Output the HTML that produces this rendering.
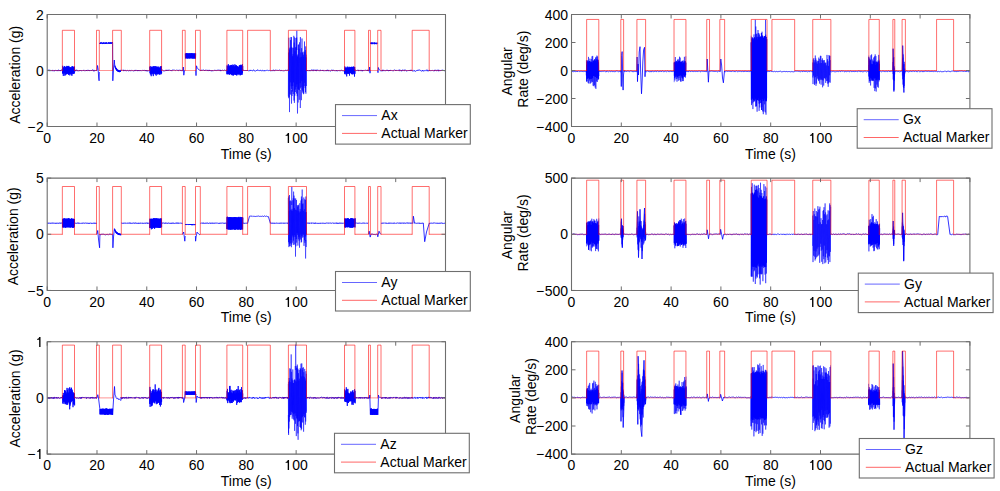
<!DOCTYPE html><html><head><meta charset="utf-8"><style>html,body{margin:0;padding:0;background:#fff;width:1000px;height:491px;overflow:hidden}svg{display:block}text{font-family:"Liberation Sans",sans-serif;font-size:14px;fill:#000}</style></head><body><svg width="1000" height="491" viewBox="0 0 1000 491"><defs><clipPath id="c0"><rect x="47.20" y="14.50" width="398.30" height="112.00"/></clipPath></defs><g clip-path="url(#c0)"><path d="M47.2 70.0 47.6 70.5 47.9 70.6 48.3 69.8 48.6 70.0 49.0 71.1 49.3 69.9 49.7 70.0 50.1 71.1 50.4 70.7 50.8 70.3 51.1 70.5 51.5 70.7 51.9 70.2 52.2 70.0 52.6 70.9 52.9 70.7 53.3 70.5 53.6 70.9 54.0 70.6 54.4 71.2 54.7 70.1 55.1 70.6 55.4 70.5 55.8 70.3 56.2 70.6 56.5 70.1 56.9 70.9 57.2 71.0 57.6 70.0 57.9 70.5 58.3 70.2 58.7 69.9 59.0 71.1 59.4 70.4 59.7 70.0 60.1 70.7 60.5 70.1 60.8 71.1 61.2 70.1 61.5 69.8 61.9 70.1 62.2 70.3 62.6 70.5 62.5 73.3 62.7 65.8 62.9 73.6 63.1 68.1 63.3 75.9 63.5 67.3 63.7 72.7 63.9 68.2 64.1 73.6 64.3 66.4 64.5 72.6 64.7 66.1 64.9 75.8 65.1 68.0 65.3 74.8 65.6 66.9 65.8 73.1 66.0 67.4 66.2 74.4 66.4 67.0 66.6 74.1 66.8 65.9 67.0 73.1 67.2 66.4 67.4 73.9 67.6 66.3 67.8 72.9 68.0 67.8 68.2 74.2 68.4 66.3 68.6 74.9 68.8 65.9 69.0 73.1 69.2 68.1 69.4 73.9 69.6 66.9 69.8 75.4 70.0 68.2 70.2 73.8 70.4 67.3 70.6 73.4 70.8 67.3 71.0 74.4 71.2 68.0 71.4 74.4 71.7 66.5 71.9 75.8 72.1 67.8 72.3 72.6 72.5 66.4 72.7 74.1 72.9 66.3 73.1 72.8 73.3 66.9 73.5 73.8 73.7 67.5 73.9 73.4 74.1 67.4 74.3 73.5 74.5 66.5 74.6 70.5 75.0 70.2 75.3 71.2 75.7 69.9 76.0 70.3 76.4 70.6 76.7 69.8 77.1 70.0 77.5 70.9 77.8 70.9 78.2 70.7 78.5 71.1 78.9 70.9 79.3 70.2 79.6 70.7 80.0 70.3 80.3 70.8 80.7 70.3 81.0 70.0 81.4 71.0 81.8 70.8 82.1 70.8 82.5 70.6 82.8 70.9 83.2 70.4 83.6 70.6 83.9 69.9 84.3 70.6 84.6 70.9 85.0 70.8 85.3 70.9 85.7 70.5 86.1 71.0 86.4 70.0 86.8 71.0 87.1 70.3 87.5 69.9 87.8 70.7 88.2 70.4 88.6 70.4 88.9 71.0 89.3 70.0 89.6 70.7 90.0 70.4 90.4 70.5 90.7 70.5 91.1 70.0 91.4 70.5 91.8 71.0 92.1 70.0 92.5 69.8 92.9 69.9 93.2 70.4 93.6 71.2 93.9 69.9 94.3 71.2 94.7 70.6 95.0 70.0 95.4 70.4 95.7 70.1 96.1 70.8 96.4 70.6 96.8 70.2 97.0 70.5 97.5 65.5 98.1 69.0 98.7 78.0 99.1 80.8 99.3 72.0 M99.7 42.8 99.8 43.9 99.9 43.7 100.1 43.1 100.2 43.0 100.3 43.6 100.4 44.0 100.6 42.4 100.7 42.6 100.8 43.0 100.9 43.2 101.0 42.4 101.2 42.4 101.3 42.7 101.4 43.0 101.5 43.6 101.7 43.4 101.8 42.4 101.9 42.4 102.0 43.1 102.1 43.9 102.3 43.9 102.4 43.0 102.5 43.9 102.6 44.0 102.7 43.0 102.9 43.6 103.0 43.0 103.1 42.6 103.2 43.3 103.4 42.5 103.5 43.5 103.6 43.8 103.7 43.9 103.8 43.1 104.0 42.5 104.1 43.9 104.2 43.9 104.3 44.0 104.5 43.4 104.6 43.5 104.7 43.0 104.8 42.6 104.9 42.8 105.1 43.6 105.2 42.9 105.3 43.5 105.4 43.2 105.6 43.1 105.7 44.0 105.8 42.6 105.9 43.2 106.0 42.6 106.2 44.0 106.3 43.2 106.4 42.9 106.5 42.6 106.6 43.4 106.8 43.0 106.9 42.5 107.0 42.4 107.1 43.0 107.3 43.3 107.4 43.2 107.5 43.9 107.6 43.9 107.7 44.0 107.9 43.7 108.0 43.2 108.1 43.2 108.2 43.0 108.4 43.0 108.5 42.4 108.6 43.7 108.7 42.7 108.8 42.4 109.0 43.1 109.1 43.6 109.2 43.1 109.3 43.0 109.5 43.5 109.6 42.6 109.7 42.3 109.8 43.4 109.9 43.3 110.1 43.9 110.2 43.0 110.3 43.7 110.4 42.3 110.5 42.3 110.7 43.4 110.8 42.7 110.9 42.4 111.0 42.5 111.2 43.0 111.3 42.9 111.4 43.3 111.5 43.9 111.6 43.0 111.8 42.6 111.9 43.3 112.0 42.3 112.1 43.0 112.3 42.9 112.4 43.0 112.5 42.4 112.6 43.2 112.8 80.8 113.4 70.0 114.3 60.0 114.8 66.5 115.0 65.7 115.2 67.7 115.3 66.4 115.5 68.6 115.6 67.3 115.8 69.1 115.9 67.8 116.1 69.4 116.2 68.1 116.4 70.1 116.5 68.5 116.7 70.6 116.8 68.9 117.0 70.5 117.1 69.6 117.3 70.9 117.4 69.7 117.6 71.3 117.8 69.9 117.9 71.4 118.1 69.9 118.2 71.4 118.4 70.1 118.5 71.5 118.7 70.4 118.8 72.0 119.0 70.3 119.1 71.9 119.3 70.6 119.4 72.2 119.6 70.7 119.7 71.9 119.9 70.8 120.0 71.9 120.2 70.5 120.3 72.0 120.5 70.5 120.5 70.1 120.9 70.2 121.2 70.6 121.6 70.2 121.9 70.3 122.3 69.9 122.6 70.3 123.0 69.8 123.4 70.1 123.7 71.1 124.1 70.2 124.4 70.2 124.8 70.8 125.1 71.0 125.5 70.2 125.9 70.3 126.2 70.8 126.6 70.9 126.9 70.7 127.3 70.1 127.6 70.1 128.0 70.9 128.4 70.8 128.7 71.1 129.1 70.9 129.4 70.4 129.8 70.0 130.1 71.0 130.5 70.8 130.9 70.6 131.2 70.8 131.6 70.3 131.9 70.3 132.3 70.6 132.6 70.5 133.0 70.8 133.4 71.1 133.7 71.0 134.1 70.3 134.4 70.3 134.8 71.1 135.2 70.4 135.5 70.9 135.9 69.9 136.2 70.4 136.6 70.5 136.9 70.9 137.3 71.0 137.7 70.0 138.0 70.7 138.4 70.7 138.7 70.0 139.1 71.0 139.4 70.6 139.8 71.1 140.2 70.1 140.5 70.5 140.9 70.3 141.2 70.7 141.6 70.7 141.9 70.5 142.3 70.3 142.7 70.5 143.0 70.3 143.4 71.0 143.7 70.4 144.1 70.5 144.4 70.2 144.8 70.2 145.2 71.1 145.5 70.2 145.9 71.0 146.2 70.6 146.6 71.2 146.9 70.0 147.3 71.1 147.7 70.9 148.0 70.6 148.4 70.8 148.7 70.8 149.1 70.4 149.4 70.7 149.8 70.1 149.8 67.0 150.0 73.2 150.2 66.0 150.4 74.5 150.6 67.8 150.8 73.5 151.0 67.8 151.2 76.2 151.5 66.7 151.7 74.2 151.9 67.2 152.1 72.8 152.3 67.6 152.5 73.4 152.7 67.3 152.9 74.3 153.1 66.0 153.3 76.1 153.5 66.5 153.7 73.1 153.9 67.6 154.1 74.1 154.4 67.5 154.6 72.6 154.8 66.0 155.0 73.9 155.2 66.2 155.4 74.6 155.6 67.8 155.8 73.9 156.0 66.6 156.2 75.6 156.4 66.6 156.6 73.8 156.8 67.8 157.0 73.6 157.3 67.4 157.5 74.4 157.7 66.7 157.9 72.8 158.1 66.8 158.3 74.1 158.5 68.0 158.7 73.7 158.9 66.7 159.1 74.4 159.3 68.0 159.5 74.5 159.7 67.5 159.9 73.4 160.2 68.2 160.4 73.2 160.6 66.5 160.8 74.5 161.0 66.2 161.2 73.8 161.4 66.3 161.6 73.3 161.6 70.5 162.0 69.8 162.3 69.8 162.7 70.2 163.0 70.6 163.4 70.8 163.7 71.1 164.1 70.9 164.5 71.1 164.8 70.7 165.2 70.8 165.5 70.6 165.9 69.9 166.2 69.9 166.6 70.9 166.9 70.1 167.3 70.9 167.7 70.4 168.0 69.8 168.4 70.6 168.7 70.4 169.1 69.9 169.4 70.2 169.8 70.2 170.2 70.3 170.5 70.8 170.9 70.0 171.2 70.4 171.6 70.6 171.9 71.1 172.3 70.0 172.7 69.9 173.0 70.1 173.4 70.1 173.7 70.0 174.1 69.9 174.4 70.1 174.8 70.1 175.2 70.5 175.5 70.7 175.9 70.3 176.2 70.0 176.6 69.9 176.9 70.2 177.3 70.0 177.7 70.5 178.0 71.0 178.4 70.8 178.7 70.1 179.1 69.9 179.4 69.9 179.8 70.4 180.1 70.3 180.5 70.8 180.9 69.9 181.2 70.2 181.6 70.8 181.9 70.6 182.3 70.5 182.6 71.1 183.0 70.0 183.3 67.0 183.8 75.2 184.5 70.5 185.0 70.5 M185.3 53.7 185.5 58.3 185.7 53.3 185.9 58.4 186.1 53.8 186.3 58.1 186.5 53.1 186.8 58.4 187.0 53.7 187.2 58.1 187.4 53.4 187.6 58.5 187.8 53.5 188.0 58.3 188.2 53.5 188.4 58.2 188.6 53.5 188.8 58.2 189.0 53.7 189.3 58.5 189.5 53.4 189.7 58.1 189.9 53.5 190.1 58.5 190.3 53.4 190.5 58.1 190.7 53.6 190.9 58.0 191.1 53.5 191.3 58.4 191.5 53.2 191.7 58.1 192.0 53.6 192.2 58.4 192.4 53.5 192.6 58.4 192.8 53.4 193.0 58.3 193.2 53.7 193.4 58.4 193.6 53.7 193.8 58.4 194.0 53.4 194.2 58.1 194.5 53.8 194.7 58.6 194.9 53.4 195.1 58.3 195.3 53.5 195.5 58.5 195.7 53.5 M195.7 70.5 196.0 75.6 196.5 65.8 196.6 66.1 197.2 67.7 197.7 68.5 198.2 69.2 198.8 69.5 199.3 70.0 199.9 70.2 200.0 70.7 200.4 70.6 200.7 70.6 201.1 71.0 201.4 69.9 201.8 70.3 202.1 69.9 202.5 70.4 202.9 69.9 203.2 69.9 203.6 69.9 203.9 70.3 204.3 70.9 204.6 70.2 205.0 70.8 205.4 70.1 205.7 70.2 206.1 70.5 206.4 69.9 206.8 70.4 207.1 70.6 207.5 71.0 207.9 69.9 208.2 70.9 208.6 70.6 208.9 70.6 209.3 69.9 209.6 71.0 210.0 70.2 210.4 70.6 210.7 70.6 211.1 71.1 211.4 70.6 211.8 71.2 212.1 70.1 212.5 70.7 212.9 70.6 213.2 70.5 213.6 70.7 213.9 70.6 214.3 70.3 214.7 70.7 215.0 69.9 215.4 70.5 215.7 70.4 216.1 70.1 216.4 70.6 216.8 70.7 217.2 70.0 217.5 70.2 217.9 69.9 218.2 70.6 218.6 69.9 218.9 70.1 219.3 70.4 219.7 70.4 220.0 69.8 220.4 71.1 220.7 70.1 221.1 70.7 221.4 70.1 221.8 70.6 222.2 70.3 222.5 70.2 222.9 70.5 223.2 70.6 223.6 70.6 223.9 70.8 224.3 70.2 224.7 69.9 225.0 70.2 225.4 70.3 225.7 70.7 226.1 70.4 226.4 70.2 226.8 69.9 226.9 74.3 227.1 65.4 227.3 73.9 227.5 66.8 227.7 74.1 227.9 65.9 228.1 74.4 228.3 64.1 228.5 74.0 228.7 65.6 229.0 72.9 229.2 65.9 229.4 74.8 229.6 67.2 229.8 74.1 230.0 65.3 230.2 73.8 230.4 65.6 230.6 74.0 230.8 65.7 231.0 74.3 231.2 64.9 231.4 75.1 231.6 65.2 231.8 73.4 232.0 65.3 232.2 73.8 232.4 66.4 232.6 75.3 232.9 64.5 233.1 75.2 233.3 66.6 233.5 75.4 233.7 65.0 233.9 74.8 234.1 66.1 234.3 73.7 234.5 67.0 234.7 74.4 234.9 64.3 235.1 74.8 235.3 66.4 235.5 74.5 235.7 65.1 235.9 74.7 236.1 66.0 236.3 75.0 236.5 65.3 236.7 75.5 237.0 66.0 237.2 73.9 237.4 66.7 237.6 74.1 237.8 66.3 238.0 75.1 238.2 67.1 238.4 73.9 238.6 66.8 238.8 74.1 239.0 67.1 239.2 74.3 239.4 65.1 239.6 73.8 239.8 65.8 240.0 75.2 240.2 66.0 240.4 75.2 240.6 64.8 240.9 74.8 241.1 65.2 241.3 74.5 241.5 65.5 241.7 74.2 241.9 65.7 242.1 74.8 242.3 64.2 242.5 73.1 242.7 66.1 242.8 70.5 243.4 70.3 244.0 70.1 244.6 70.9 245.2 70.3 245.9 71.0 246.5 70.1 247.1 70.8 247.7 70.3 248.3 71.0 248.9 70.7 249.5 70.8 250.1 69.9 250.8 70.9 251.4 70.3 252.0 70.8 252.6 71.0 253.2 70.0 253.8 69.8 254.4 70.9 255.0 71.2 255.7 71.1 256.3 70.4 256.9 71.0 257.5 69.8 258.1 69.9 258.7 70.6 259.3 70.5 259.9 71.0 260.6 70.1 261.2 70.4 261.8 71.2 262.4 70.2 263.0 70.4 263.6 70.7 264.2 71.2 264.8 70.1 265.5 70.8 266.1 70.4 266.7 70.4 267.3 70.2 267.9 70.5 268.5 70.6 269.1 70.3 269.7 70.5 270.3 70.7 271.0 71.0 271.6 70.6 272.2 70.3 272.8 71.1 273.4 70.0 274.0 69.9 274.6 71.1 275.2 70.2 275.9 70.0 276.5 70.3 277.1 70.3 277.7 70.3 278.3 71.0 278.9 70.2 279.5 70.0 280.1 70.1 280.8 71.1 281.4 70.4 282.0 70.3 282.6 70.9 283.2 71.1 283.8 70.5 284.4 70.9 285.0 70.2 285.7 70.3 286.3 70.6 286.9 70.1 287.5 70.2 288.1 70.1 288.3 70.5 M306.5 70.5 306.5 70.2 306.9 71.0 307.2 70.9 307.6 70.0 307.9 70.3 308.3 70.8 308.6 71.0 309.0 70.6 309.3 70.8 309.7 70.1 310.0 70.9 310.4 70.9 310.7 70.4 311.1 70.1 311.5 69.8 311.8 70.7 312.2 70.7 312.5 69.8 312.9 70.5 313.2 71.1 313.6 69.8 313.9 70.0 314.3 69.9 314.6 70.4 315.0 70.3 315.3 71.0 315.7 69.9 316.1 70.1 316.4 71.1 316.8 69.8 317.1 70.2 317.5 70.4 317.8 69.8 318.2 70.2 318.5 70.6 318.9 70.7 319.2 70.7 319.6 70.7 319.9 70.7 320.3 69.8 320.6 70.7 321.0 70.6 321.4 70.1 321.7 70.4 322.1 70.1 322.4 71.0 322.8 70.2 323.1 70.0 323.5 70.9 323.8 70.9 324.2 71.0 324.5 70.7 324.9 70.4 325.2 70.5 325.6 70.6 326.0 70.6 326.3 71.1 326.7 70.2 327.0 70.9 327.4 69.8 327.7 70.1 328.1 71.1 328.4 70.2 328.8 70.5 329.1 71.1 329.5 70.7 329.8 70.5 330.2 70.8 330.6 71.2 330.9 71.1 331.3 70.1 331.6 70.0 332.0 70.2 332.3 70.0 332.7 70.9 333.0 71.0 333.4 70.0 333.7 69.9 334.1 70.3 334.4 70.8 334.8 70.9 335.1 70.4 335.5 70.7 335.9 71.1 336.2 71.0 336.6 70.0 336.9 70.8 337.3 70.9 337.6 71.1 338.0 70.4 338.3 70.0 338.7 70.5 339.0 70.3 339.4 70.4 339.7 70.9 340.1 70.7 340.5 70.8 340.8 70.7 341.2 70.0 341.5 69.9 341.9 70.4 342.2 71.0 342.6 70.7 342.9 70.9 343.3 70.7 343.6 70.9 344.0 71.2 344.3 70.8 344.7 71.0 344.6 74.1 344.8 66.4 345.0 73.0 345.2 68.1 345.4 72.4 345.6 67.7 345.8 74.3 346.0 67.4 346.2 74.2 346.5 67.8 346.7 76.4 346.9 68.3 347.1 73.7 347.3 66.6 347.5 72.8 347.7 67.6 347.9 73.9 348.1 67.5 348.3 73.9 348.5 68.2 348.7 73.1 348.9 66.8 349.1 73.1 349.3 67.7 349.5 75.6 349.8 66.9 350.0 72.8 350.2 67.9 350.4 73.1 350.6 67.0 350.8 73.0 351.0 67.6 351.2 73.5 351.4 66.9 351.6 74.0 351.8 66.8 352.0 74.3 352.2 67.6 352.4 73.6 352.6 66.9 352.8 74.3 353.0 67.0 353.3 74.1 353.5 66.7 353.7 72.7 353.9 66.6 354.1 72.6 354.3 67.8 354.5 76.6 354.7 67.0 354.9 73.9 355.2 70.4 355.6 70.0 355.9 70.2 356.3 70.5 356.7 70.6 357.0 70.2 357.4 70.0 357.7 70.3 358.1 70.1 358.5 71.1 358.8 70.1 359.2 70.4 359.6 70.6 359.9 70.2 360.3 70.5 360.7 70.6 361.0 69.9 361.4 71.1 361.8 70.6 362.1 70.0 362.5 71.2 362.8 70.0 363.2 70.8 363.6 70.5 363.9 70.2 364.3 70.3 364.7 70.5 365.0 70.3 365.4 70.1 365.8 70.4 366.1 70.4 366.5 70.8 366.9 70.1 367.2 69.9 367.6 71.0 367.9 69.9 368.3 70.7 368.7 70.6 369.0 71.2 369.4 70.1 369.6 67.0 370.0 73.2 370.3 70.5 M370.6 44.0 370.7 42.7 370.8 42.8 371.0 43.6 371.1 42.7 371.2 43.5 371.3 43.7 371.5 42.7 371.6 43.9 371.7 43.2 371.8 44.2 372.0 42.5 372.1 42.6 372.2 43.6 372.3 42.9 372.4 43.2 372.6 44.1 372.7 43.1 372.8 42.5 372.9 42.7 373.1 43.5 373.2 43.8 373.3 43.8 373.4 43.3 373.6 42.9 373.7 42.7 373.8 42.9 373.9 42.8 374.1 44.1 374.2 43.2 374.3 42.7 374.4 43.6 374.5 43.3 374.7 42.5 374.8 44.2 374.9 44.2 375.0 42.9 375.2 43.9 375.3 43.3 375.4 43.7 375.5 43.6 375.7 43.8 375.8 43.2 375.9 42.7 376.0 43.9 376.1 43.2 376.3 43.2 376.4 43.8 376.5 43.7 376.6 44.2 376.8 43.1 376.9 43.6 377.0 42.6 377.1 42.7 377.3 42.9 377.4 43.0 377.5 43.3 M377.7 70.5 378.0 72.7 378.3 67.8 378.4 67.5 378.9 69.5 379.4 69.7 380.0 70.1 380.5 70.8 381.0 70.8 381.0 70.9 381.4 71.1 381.7 70.8 382.1 70.2 382.4 71.1 382.8 69.8 383.1 71.1 383.5 70.4 383.9 70.3 384.2 70.5 384.6 70.4 384.9 71.0 385.3 70.9 385.6 70.8 386.0 70.1 386.3 70.4 386.7 69.9 387.1 70.8 387.4 69.9 387.8 70.4 388.1 70.0 388.5 71.0 388.8 71.1 389.2 70.2 389.6 71.0 389.9 70.0 390.3 70.8 390.6 70.2 391.0 70.4 391.3 70.7 391.7 70.3 392.0 70.1 392.4 70.6 392.8 70.9 393.1 71.2 393.5 70.3 393.8 70.2 394.2 69.9 394.5 70.1 394.9 69.8 395.3 70.1 395.6 70.8 396.0 70.0 396.3 70.7 396.7 70.2 397.0 70.1 397.4 70.5 397.7 70.4 398.1 70.4 398.5 70.0 398.8 70.6 399.2 71.1 399.5 69.8 399.9 69.9 400.2 70.6 400.6 70.2 401.0 70.2 401.3 71.2 401.7 70.2 402.0 71.1 402.4 70.7 402.7 69.8 403.1 70.2 403.4 69.9 403.8 70.6 404.2 71.1 404.5 69.9 404.9 69.8 405.2 69.8 405.6 70.2 405.9 70.0 406.3 71.2 406.7 70.9 407.0 71.1 407.4 70.6 407.7 70.9 408.1 70.8 408.4 70.2 408.8 70.7 409.1 70.2 409.5 70.4 409.9 71.0 410.2 70.1 410.6 70.0 410.9 71.0 411.3 70.4 411.6 70.0 412.0 70.2 412.0 70.1 412.6 71.2 413.3 70.5 413.9 71.3 414.5 70.4 415.1 71.3 415.8 71.2 416.4 70.6 417.0 71.0 417.7 70.1 418.3 69.8 418.9 70.7 419.6 69.7 420.2 70.4 420.8 70.7 421.4 71.0 422.1 71.2 422.7 70.0 423.3 71.2 424.0 70.5 424.6 70.7 425.2 70.4 425.9 71.1 426.5 70.1 427.1 69.6 427.7 71.1 428.4 70.8 429.0 70.9 429.0 70.0 429.4 70.1 429.7 70.7 430.1 70.8 430.4 70.7 430.8 70.6 431.2 70.7 431.5 70.0 431.9 70.4 432.2 70.3 432.6 70.8 432.9 70.5 433.3 70.8 433.7 70.8 434.0 71.1 434.4 71.0 434.7 69.9 435.1 70.7 435.5 70.3 435.8 69.9 436.2 70.5 436.5 71.0 436.9 70.9 437.2 69.9 437.6 70.1 438.0 70.8 438.3 71.2 438.7 69.9 439.0 69.9 439.4 70.8 439.8 70.7 440.1 70.9 440.5 70.1 440.8 70.5 441.2 70.9 441.6 70.3 441.9 70.4 442.3 69.8 442.6 70.9 443.0 70.4 443.3 70.3 443.7 70.7 444.1 71.0 444.4 71.0 444.8 70.3 445.1 70.7 445.5 70.3" fill="none" stroke="#0000ff" stroke-width="0.8" stroke-linejoin="round"/><path d="M288.3 96.4 288.5 52.5 288.7 98.2 288.9 37.7 289.1 97.0 289.3 48.5 289.5 112.1 289.7 50.2 289.9 94.2 290.1 47.5 290.3 82.4 290.5 40.1 290.8 94.7 291.0 37.1 291.2 86.3 291.4 37.2 291.6 88.9 291.8 46.9 292.0 96.0 292.2 48.0 292.4 91.6 292.6 56.2 292.8 86.0 293.0 54.2 293.2 94.0 293.4 47.8 293.6 82.4 293.8 35.8 294.0 100.6 294.2 42.6 294.4 102.9 294.6 37.3 294.8 95.7 295.0 51.2 295.3 92.0 295.5 47.4 295.7 89.5 295.9 38.0 296.1 86.8 296.3 46.8 296.5 93.5 296.7 37.5 296.9 84.3 297.1 55.4 297.3 96.2 297.5 56.6 297.7 89.6 297.9 54.4 298.1 102.5 298.3 44.8 298.5 89.6 298.7 44.5 298.9 89.8 299.1 48.8 299.3 99.8 299.5 42.3 299.8 90.2 300.0 57.7 300.2 83.2 300.4 37.1 300.6 88.3 300.8 52.5 301.0 87.0 301.2 56.9 301.4 100.2 301.6 48.2 301.8 81.2 302.0 38.5 302.2 89.8 302.4 52.5 302.6 91.5 302.8 52.4 303.0 92.9 303.2 56.6 303.4 94.2 303.6 54.7 303.8 93.6 304.0 51.6 304.3 86.1 304.5 41.5 304.7 82.8 304.9 52.3 305.1 88.1 305.3 50.1 305.5 92.1 305.7 46.4 305.9 93.7 306.1 57.4 306.3 86.0 306.5 54.6" fill="none" stroke="#0000ff" stroke-width="0.5" stroke-linejoin="round"/><path d="M296.5 50 L296.8 30.8 L297.1 50 M297.2 90 L297.5 113.5 L297.8 90 M291.3 90 L291.5 103.6 L291.8 90 M300.1 90 L300.3 108 L300.6 90" fill="none" stroke="#0000ff" stroke-width="0.5" stroke-linejoin="round"/><path d="M47.20 70.50H62.35M74.50 70.50H96.50M99.30 70.50H112.60M121.30 70.50H149.70M161.60 70.50H182.40M185.20 70.50H195.50M200.30 70.50H226.90M242.70 70.50H247.60M270.30 70.50H288.40M306.50 70.50H344.50M354.90 70.50H368.50M370.40 70.50H377.70M381.00 70.50H412.20M429.20 70.50H445.50" fill="none" stroke="#ff0000" stroke-opacity="0.42" stroke-width="1"/><path d="M62.35 71.00V30.30H74.50V71.00M96.50 71.00V30.30H99.30V71.00M112.60 71.00V30.30H121.30V71.00M149.70 71.00V30.30H161.60V71.00M182.40 71.00V30.30H185.20V71.00M195.50 71.00V30.30H200.30V71.00M226.90 71.00V30.30H242.70V71.00M247.60 71.00V30.30H270.30V71.00M288.40 71.00V30.30H306.50V71.00M344.50 71.00V30.30H354.90V71.00M368.50 71.00V30.30H370.40V71.00M377.70 71.00V30.30H381.00V71.00M412.20 71.00V30.30H429.20V71.00" fill="none" stroke="#ff0000" stroke-opacity="0.57" stroke-width="1"/></g><path d="M46.70 14.50H446.00M46.70 126.50H446.00M47.20 14.50V126.50M445.50 14.50V126.50" stroke="#6e6e6e" stroke-width="1.1" fill="none"/><path d="M47.20 126.50V122.50M47.20 14.50V18.50M96.99 126.50V122.50M96.99 14.50V18.50M146.78 126.50V122.50M146.78 14.50V18.50M196.56 126.50V122.50M196.56 14.50V18.50M246.35 126.50V122.50M246.35 14.50V18.50M296.14 126.50V122.50M296.14 14.50V18.50M345.93 126.50V122.50M345.93 14.50V18.50M395.71 126.50V122.50M395.71 14.50V18.50M445.50 126.50V122.50M445.50 14.50V18.50M47.20 126.50H51.20M445.50 126.50H441.50M47.20 70.50H51.20M445.50 70.50H441.50M47.20 14.50H51.20M445.50 14.50H441.50" stroke="#6e6e6e" stroke-width="1" fill="none"/><text x="47.20" y="143.00" text-anchor="middle">0</text><text x="96.99" y="143.00" text-anchor="middle">20</text><text x="146.78" y="143.00" text-anchor="middle">40</text><text x="196.56" y="143.00" text-anchor="middle">60</text><text x="246.35" y="143.00" text-anchor="middle">80</text><text x="296.14" y="143.00" text-anchor="middle"> 00</text><path transform="translate(284.46 143)" d="M4.6 0H3.25V-7.15H1.15V-8.0C2.3 -8.1 3.0 -8.5 3.3 -9.9H4.6Z"/><text x="345.93" y="143.00" text-anchor="middle"> 20</text><path transform="translate(334.25 143)" d="M4.6 0H3.25V-7.15H1.15V-8.0C2.3 -8.1 3.0 -8.5 3.3 -9.9H4.6Z"/><text x="395.71" y="143.00" text-anchor="middle"> 40</text><path transform="translate(384.03 143)" d="M4.6 0H3.25V-7.15H1.15V-8.0C2.3 -8.1 3.0 -8.5 3.3 -9.9H4.6Z"/><text x="445.50" y="143.00" text-anchor="middle"> 60</text><path transform="translate(433.82 143)" d="M4.6 0H3.25V-7.15H1.15V-8.0C2.3 -8.1 3.0 -8.5 3.3 -9.9H4.6Z"/><text x="43.70" y="131.70" text-anchor="end"><tspan dy=" .3">−</tspan><tspan dy="- .3" dx="0.4">2</tspan></text><text x="43.70" y="75.70" text-anchor="end">0</text><text x="43.70" y="19.70" text-anchor="end">2</text><text x="246.15" y="158.50" text-anchor="middle">Time (s)</text><text transform="translate(19.70 74.85) rotate(-90)" text-anchor="middle">Acceleration (g)</text><rect x="335.50" y="104.60" width="134.8" height="39.5" fill="#fff" stroke="#6e6e6e" stroke-width="1.1"/><path d="M342.00 115.60H377.00" stroke="#0000ff" stroke-opacity="0.6" stroke-width="1"/><path d="M342.00 133.40H377.00" stroke="#ff0000" stroke-opacity="0.6" stroke-width="1"/><text x="381.30" y="120.20">Ax</text><text x="381.30" y="138.20">Actual Marker</text><defs><clipPath id="c1"><rect x="47.20" y="178.10" width="398.30" height="112.35"/></clipPath></defs><g clip-path="url(#c1)"><path d="M47.2 223.0 47.4 223.3 47.5 222.9 47.7 222.9 47.8 223.0 48.0 223.0 48.1 223.2 48.3 222.9 48.4 223.3 48.6 223.3 48.7 222.9 48.9 223.1 49.0 222.9 49.2 223.0 49.3 223.1 49.5 223.1 49.6 223.1 49.8 223.3 50.0 223.0 50.1 222.9 50.3 223.2 50.4 223.3 50.6 223.3 50.7 223.3 50.9 222.9 51.0 223.3 51.2 223.2 51.3 223.3 51.5 223.1 51.6 223.0 51.8 223.2 51.9 223.2 52.1 223.2 52.2 223.0 52.4 222.9 52.6 223.2 52.7 222.9 52.9 223.3 53.0 222.9 53.2 223.2 53.3 223.1 53.5 223.0 53.6 222.9 53.8 223.2 53.9 223.3 54.1 223.2 54.2 223.2 54.4 223.2 54.5 223.1 54.7 223.1 54.9 223.3 55.0 223.0 55.2 223.0 55.3 223.3 55.5 223.3 55.6 223.1 55.8 223.3 55.9 223.2 56.1 223.3 56.2 222.9 56.4 223.3 56.5 223.1 56.7 223.1 56.8 223.2 57.0 223.2 57.1 223.1 57.3 223.0 57.5 223.3 57.6 223.3 57.8 222.9 57.9 223.1 58.1 223.2 58.2 223.3 58.4 223.3 58.5 223.0 58.7 223.3 58.8 223.2 59.0 222.9 59.1 223.0 59.3 222.9 59.4 222.9 59.6 223.2 59.7 223.0 59.9 223.2 60.1 222.9 60.2 223.3 60.4 223.2 60.5 223.2 60.7 223.2 60.8 223.1 61.0 222.9 61.1 223.3 61.3 222.9 61.4 223.1 61.6 222.9 61.7 222.9 61.9 223.2 62.0 223.3 62.2 223.1 62.3 223.2 62.5 223.3 62.5 227.0 62.7 219.2 62.9 227.7 63.1 218.6 63.3 227.4 63.5 218.8 63.7 227.2 63.9 219.2 64.1 227.0 64.3 218.0 64.5 227.0 64.7 219.4 64.9 227.6 65.1 219.0 65.3 228.0 65.6 218.6 65.8 226.9 66.0 218.7 66.2 226.9 66.4 219.2 66.6 227.5 66.8 218.5 67.0 227.1 67.2 219.0 67.4 227.2 67.6 218.6 67.8 227.3 68.0 219.4 68.2 227.0 68.4 218.1 68.6 227.1 68.8 219.4 69.0 227.6 69.2 218.2 69.4 227.0 69.6 219.3 69.8 227.1 70.0 219.2 70.2 227.7 70.4 219.0 70.6 227.3 70.8 219.1 71.0 226.9 71.2 218.4 71.4 227.0 71.7 218.5 71.9 227.5 72.1 218.5 72.3 227.5 72.5 219.2 72.7 227.6 72.9 219.0 73.1 227.6 73.3 219.4 73.5 227.4 73.7 218.7 73.9 227.6 74.1 219.3 74.3 226.8 74.5 219.2 74.5 223.0 74.7 223.3 74.8 223.3 75.0 223.3 75.1 223.2 75.3 223.2 75.4 222.9 75.6 223.0 75.7 223.2 75.9 223.1 76.0 223.1 76.2 223.2 76.3 223.0 76.5 223.3 76.6 223.2 76.8 222.9 76.9 223.1 77.1 223.3 77.2 223.0 77.4 222.9 77.5 222.9 77.7 223.1 77.8 222.9 78.0 222.9 78.1 222.9 78.3 223.3 78.4 223.3 78.6 222.9 78.7 223.1 78.9 223.2 79.0 222.9 79.2 223.3 79.3 223.2 79.5 223.2 79.6 223.1 79.8 223.2 79.9 223.3 80.1 223.0 80.3 223.0 80.4 223.3 80.6 223.1 80.7 223.1 80.9 223.3 81.0 223.2 81.2 223.2 81.3 223.3 81.5 223.3 81.6 223.2 81.8 223.3 81.9 223.2 82.1 223.3 82.2 223.3 82.4 222.9 82.5 223.3 82.7 223.2 82.8 222.9 83.0 223.2 83.1 223.2 83.3 223.1 83.4 223.0 83.6 223.1 83.7 222.9 83.9 223.0 84.0 223.2 84.2 223.2 84.3 223.1 84.5 223.3 84.6 223.3 84.8 223.3 84.9 223.1 85.1 223.0 85.2 222.9 85.4 223.1 85.5 223.1 85.7 222.9 85.9 222.9 86.0 223.3 86.2 223.2 86.3 223.3 86.5 223.0 86.6 223.1 86.8 223.1 86.9 223.1 87.1 222.9 87.2 223.1 87.4 223.2 87.5 223.0 87.7 223.3 87.8 223.3 88.0 222.9 88.1 223.1 88.3 223.2 88.4 223.1 88.6 223.3 88.7 223.0 88.9 223.3 89.0 223.0 89.2 223.3 89.3 222.9 89.5 223.3 89.6 223.3 89.8 223.1 89.9 223.0 90.1 223.0 90.2 222.9 90.4 223.0 90.5 223.1 90.7 223.1 90.8 223.1 91.0 223.3 91.2 223.0 91.3 223.2 91.5 223.3 91.6 223.0 91.8 222.9 91.9 223.3 92.1 223.2 92.2 223.1 92.4 223.3 92.5 223.0 92.7 223.2 92.8 223.2 93.0 223.0 93.1 223.2 93.3 222.9 93.4 223.0 93.6 223.1 93.7 223.3 93.9 223.2 94.0 222.9 94.2 223.2 94.3 222.9 94.5 223.0 94.6 223.3 94.8 223.0 94.9 222.9 95.1 223.3 95.2 223.0 95.4 223.1 95.5 223.0 95.7 223.3 95.8 223.2 96.0 223.2 96.1 222.9 96.3 223.0 96.4 223.3 96.6 223.0 M96.9 234.3 97.7 230.5 98.6 240.0 99.6 247.8 99.9 234.3 100.0 234.1 100.7 234.9 101.3 234.3 102.0 234.6 102.6 234.2 103.3 234.1 103.9 234.5 104.6 234.6 105.2 234.8 105.9 234.9 106.5 234.5 107.2 234.7 107.8 234.3 108.5 234.9 109.1 234.3 109.8 234.0 110.4 234.2 111.1 234.1 111.7 234.6 112.4 234.2 112.6 234.5 112.9 247.8 113.6 236.0 114.4 228.6 114.6 228.8 114.8 230.5 114.9 229.4 115.1 231.1 115.2 230.3 115.4 231.7 115.5 230.8 115.7 232.4 115.8 231.1 116.0 232.8 116.1 231.7 116.3 233.2 116.4 231.9 116.6 233.6 116.7 232.0 116.9 233.5 117.0 232.4 117.2 233.8 117.3 232.6 117.5 234.0 117.6 232.8 117.8 234.4 117.9 233.0 118.1 234.4 118.2 233.1 118.4 234.8 118.5 233.4 118.7 234.5 118.8 233.5 119.0 234.8 119.1 233.5 119.3 235.1 119.4 233.7 119.6 234.8 119.7 233.9 119.9 235.0 120.0 233.8 120.2 235.1 120.3 233.7 120.5 235.1 120.6 234.0 120.8 235.4 M121.3 222.9 121.5 223.0 121.6 222.9 121.8 223.2 121.9 223.0 122.1 223.2 122.2 223.1 122.4 223.3 122.5 223.0 122.7 223.2 122.8 222.9 123.0 223.0 123.1 223.0 123.3 223.1 123.4 223.0 123.6 223.0 123.7 223.3 123.9 222.9 124.0 223.1 124.2 223.3 124.3 223.1 124.5 223.1 124.6 223.1 124.8 222.9 124.9 223.0 125.1 223.2 125.2 223.1 125.4 223.0 125.5 223.1 125.7 223.3 125.8 223.0 126.0 223.2 126.1 223.3 126.3 223.1 126.4 222.9 126.6 223.1 126.7 223.2 126.9 223.2 127.0 223.3 127.2 223.1 127.3 222.9 127.5 222.9 127.6 223.2 127.8 223.1 127.9 223.3 128.1 223.3 128.2 223.2 128.4 223.1 128.6 223.2 128.7 222.9 128.9 223.0 129.0 223.2 129.2 223.1 129.3 222.9 129.5 223.0 129.6 222.9 129.8 223.3 129.9 222.9 130.1 223.2 130.2 222.9 130.4 222.9 130.5 222.9 130.7 223.0 130.8 223.3 131.0 223.3 131.1 223.1 131.3 223.3 131.4 223.2 131.6 223.3 131.7 223.0 131.9 223.0 132.0 223.0 132.2 223.3 132.3 223.3 132.5 223.2 132.6 223.3 132.8 222.9 132.9 222.9 133.1 222.9 133.2 223.0 133.4 223.0 133.5 223.1 133.7 222.9 133.8 223.1 134.0 223.2 134.1 223.3 134.3 222.9 134.4 223.3 134.6 223.0 134.7 223.1 134.9 223.3 135.0 222.9 135.2 223.1 135.3 223.0 135.5 222.9 135.7 222.9 135.8 223.0 136.0 223.1 136.1 222.9 136.3 222.9 136.4 223.3 136.6 223.1 136.7 223.0 136.9 223.3 137.0 223.2 137.2 223.0 137.3 223.3 137.5 222.9 137.6 223.0 137.8 223.3 137.9 223.1 138.1 222.9 138.2 222.9 138.4 223.3 138.5 223.0 138.7 223.3 138.8 223.0 139.0 223.1 139.1 223.0 139.3 223.3 139.4 223.2 139.6 223.3 139.7 223.1 139.9 223.2 140.0 222.9 140.2 223.2 140.3 223.2 140.5 223.2 140.6 223.0 140.8 222.9 140.9 223.2 141.1 223.2 141.2 223.1 141.4 222.9 141.5 223.1 141.7 223.0 141.8 223.3 142.0 223.2 142.1 223.2 142.3 223.2 142.4 223.3 142.6 223.3 142.8 222.9 142.9 222.9 143.1 223.3 143.2 223.0 143.4 223.2 143.5 223.0 143.7 223.2 143.8 223.2 144.0 223.0 144.1 223.2 144.3 222.9 144.4 222.9 144.6 223.1 144.7 223.3 144.9 223.3 145.0 222.9 145.2 223.0 145.3 222.9 145.5 223.3 145.6 223.0 145.8 223.0 145.9 223.1 146.1 223.0 146.2 223.1 146.4 222.9 146.5 222.9 146.7 223.0 146.8 222.9 147.0 223.3 147.1 222.9 147.3 223.3 147.4 223.0 147.6 223.3 147.7 222.9 147.9 223.1 148.0 223.2 148.2 222.9 148.3 223.1 148.5 223.1 148.6 223.3 148.8 223.0 148.9 223.1 149.1 222.9 149.2 223.2 149.4 223.3 149.5 223.2 149.7 223.2 149.7 228.0 149.9 218.7 150.1 227.8 150.3 218.9 150.5 227.5 150.7 218.9 150.9 227.6 151.1 219.1 151.3 229.3 151.5 218.7 151.8 227.8 152.0 219.1 152.2 229.0 152.4 219.1 152.6 227.1 152.8 218.7 153.0 228.1 153.2 218.7 153.4 227.5 153.6 218.4 153.8 227.7 154.0 218.2 154.2 227.3 154.4 218.6 154.6 228.9 154.8 218.5 155.0 228.0 155.2 218.6 155.4 227.1 155.6 218.6 155.9 227.5 156.1 218.2 156.3 227.5 156.5 218.5 156.7 227.3 156.9 218.7 157.1 227.5 157.3 218.9 157.5 227.5 157.7 218.5 157.9 227.5 158.1 218.6 158.3 227.1 158.5 218.9 158.7 228.0 158.9 218.8 159.1 227.9 159.3 218.9 159.5 227.7 159.8 218.9 160.0 227.9 160.2 218.4 160.4 227.4 160.6 219.1 160.8 227.6 161.0 218.4 161.2 227.1 161.4 218.6 161.6 227.2 161.6 223.2 161.8 223.1 161.9 223.2 162.1 222.9 162.2 223.1 162.4 223.3 162.5 222.9 162.7 223.0 162.8 223.0 163.0 223.1 163.1 222.9 163.3 222.9 163.4 223.1 163.6 222.9 163.7 223.0 163.9 223.0 164.0 223.0 164.2 223.3 164.3 223.0 164.5 223.2 164.6 222.9 164.8 223.3 164.9 223.2 165.1 223.0 165.2 223.1 165.4 223.1 165.5 222.9 165.7 223.3 165.8 223.0 166.0 223.2 166.1 222.9 166.3 223.1 166.4 223.0 166.6 223.2 166.7 223.0 166.9 222.9 167.0 223.0 167.2 222.9 167.3 223.3 167.5 223.0 167.6 223.3 167.8 223.1 167.9 223.3 168.1 223.1 168.2 222.9 168.4 223.0 168.6 223.1 168.7 222.9 168.9 223.2 169.0 222.9 169.2 223.1 169.3 223.1 169.5 223.3 169.6 223.1 169.8 223.3 169.9 223.1 170.1 223.2 170.2 223.3 170.4 223.1 170.5 223.3 170.7 223.3 170.8 223.0 171.0 223.2 171.1 222.9 171.3 223.0 171.4 223.3 171.6 223.0 171.7 223.3 171.9 222.9 172.0 223.1 172.2 222.9 172.3 223.2 172.5 223.2 172.6 223.0 172.8 222.9 172.9 223.3 173.1 223.2 173.2 223.2 173.4 223.2 173.5 222.9 173.7 222.9 173.8 223.3 174.0 223.0 174.1 223.2 174.3 223.3 174.4 223.3 174.6 223.3 174.7 223.3 174.9 223.0 175.0 223.2 175.2 223.2 175.3 223.1 175.5 223.3 175.7 223.1 175.8 222.9 176.0 223.1 176.1 222.9 176.3 223.3 176.4 222.9 176.6 223.0 176.7 223.0 176.9 222.9 177.0 223.1 177.2 223.1 177.3 222.9 177.5 222.9 177.6 223.1 177.8 223.0 177.9 223.3 178.1 222.9 178.2 223.3 178.4 222.9 178.5 222.9 178.7 223.1 178.8 223.3 179.0 223.2 179.1 222.9 179.3 223.1 179.4 223.1 179.6 222.9 179.7 223.1 179.9 223.3 180.0 223.2 180.2 223.0 180.3 223.0 180.5 223.1 180.6 223.1 180.8 222.9 180.9 222.9 181.1 222.9 181.2 223.2 181.4 223.2 181.5 223.3 181.7 223.0 181.8 223.0 182.0 223.3 182.1 223.0 182.3 223.2 M182.6 234.3 183.7 232.0 184.8 241.2 185.2 236.0 M185.4 224.2 185.6 224.9 185.7 224.1 185.9 225.0 186.0 224.4 186.2 224.8 186.3 224.9 186.5 224.3 186.6 224.3 186.8 224.0 186.9 224.5 187.1 224.5 187.2 224.7 187.4 224.2 187.5 224.3 187.7 224.4 187.8 224.8 188.0 224.4 188.1 224.9 188.3 224.6 188.4 224.9 188.6 224.9 188.8 224.3 188.9 224.9 189.1 224.5 189.2 225.0 189.4 224.6 189.5 225.0 189.7 224.6 189.8 224.1 190.0 224.6 190.1 224.1 190.3 224.9 190.4 225.0 190.6 224.1 190.7 224.9 190.9 224.5 191.0 224.8 191.2 224.8 191.3 224.3 191.5 225.0 191.6 224.0 191.8 225.2 191.9 224.5 192.1 225.1 192.3 224.2 192.4 225.0 192.6 224.3 192.7 225.0 192.9 224.9 193.0 225.1 193.2 224.8 193.3 224.1 193.5 224.1 193.6 224.8 193.8 224.9 193.9 225.0 194.1 224.8 194.2 225.2 194.4 224.4 194.5 224.4 194.7 224.1 194.8 225.0 195.0 224.3 195.1 224.9 195.3 224.8 M195.4 236.0 195.6 241.2 196.2 236.0 197.2 232.0 197.3 232.7 197.9 233.4 198.4 233.5 199.0 234.4 199.5 234.6 200.1 234.0 M200.4 223.3 200.6 223.2 200.7 223.3 200.9 223.3 201.0 223.3 201.2 223.1 201.3 223.2 201.5 222.9 201.6 223.0 201.8 223.1 201.9 222.9 202.1 223.3 202.2 223.2 202.4 223.1 202.5 223.0 202.7 222.9 202.8 223.3 203.0 222.9 203.1 222.9 203.3 223.0 203.4 223.3 203.6 222.9 203.7 222.9 203.9 223.0 204.0 223.1 204.2 223.2 204.3 223.0 204.5 223.0 204.6 223.3 204.8 223.0 204.9 223.0 205.1 223.3 205.2 223.2 205.4 223.3 205.5 223.3 205.7 223.2 205.8 222.9 206.0 222.9 206.1 223.0 206.3 223.2 206.4 223.0 206.6 222.9 206.7 223.3 206.9 223.0 207.0 222.9 207.2 223.2 207.3 223.2 207.5 223.0 207.6 222.9 207.8 223.2 207.9 222.9 208.1 223.2 208.2 223.1 208.4 223.3 208.5 223.0 208.7 223.3 208.8 223.2 209.0 223.0 209.1 223.2 209.3 223.0 209.5 223.0 209.6 223.0 209.8 223.1 209.9 223.1 210.1 223.0 210.2 222.9 210.4 223.3 210.5 223.0 210.7 223.3 210.8 223.0 211.0 222.9 211.1 223.3 211.3 223.2 211.4 223.2 211.6 223.1 211.7 222.9 211.9 223.2 212.0 223.3 212.2 223.1 212.3 222.9 212.5 223.0 212.6 223.3 212.8 222.9 212.9 223.0 213.1 222.9 213.2 223.2 213.4 223.3 213.5 223.1 213.7 223.2 213.8 223.3 214.0 223.0 214.1 223.1 214.3 223.3 214.4 222.9 214.6 223.2 214.7 223.0 214.9 223.0 215.0 222.9 215.2 223.1 215.3 223.2 215.5 223.0 215.6 223.1 215.8 222.9 215.9 223.2 216.1 223.1 216.2 222.9 216.4 223.1 216.5 223.2 216.7 223.0 216.8 223.1 217.0 223.1 217.1 223.1 217.3 222.9 217.4 222.9 217.6 223.0 217.7 223.2 217.9 223.3 218.1 223.1 218.2 223.1 218.4 223.2 218.5 223.0 218.7 223.3 218.8 223.1 219.0 223.0 219.1 223.3 219.3 223.0 219.4 223.2 219.6 223.0 219.7 223.3 219.9 223.2 220.0 222.9 220.2 223.2 220.3 222.9 220.5 223.1 220.6 223.2 220.8 223.2 220.9 223.2 221.1 223.1 221.2 223.2 221.4 222.9 221.5 223.1 221.7 223.2 221.8 223.3 222.0 223.1 222.1 222.9 222.3 223.1 222.4 223.1 222.6 223.1 222.7 222.9 222.9 222.9 223.0 223.1 223.2 223.2 223.3 223.2 223.5 223.0 223.6 223.2 223.8 223.3 223.9 223.3 224.1 223.3 224.2 223.1 224.4 223.3 224.5 223.0 224.7 223.3 224.8 222.9 225.0 222.9 225.1 222.9 225.3 223.2 225.4 223.3 225.6 222.9 225.7 223.1 225.9 222.9 226.0 223.0 226.2 223.2 226.3 223.2 226.5 223.2 226.6 223.1 226.8 222.9 226.8 229.1 227.0 217.1 227.2 228.8 227.4 216.7 227.6 229.3 227.8 217.1 228.0 228.9 228.2 217.5 228.4 229.6 228.6 217.6 228.8 229.0 229.0 217.3 229.2 229.5 229.4 217.0 229.6 228.9 229.8 217.1 230.0 229.9 230.2 217.2 230.4 229.5 230.6 217.2 230.9 229.4 231.1 217.5 231.3 229.5 231.5 217.4 231.7 229.2 231.9 217.6 232.1 229.6 232.3 217.5 232.5 228.9 232.7 217.6 232.9 229.5 233.1 217.2 233.3 229.1 233.5 217.8 233.7 228.8 233.9 217.3 234.1 229.6 234.3 217.0 234.5 229.6 234.7 217.1 234.9 229.3 235.1 217.2 235.3 229.0 235.5 217.3 235.7 229.9 235.9 217.6 236.1 229.4 236.3 217.3 236.5 228.8 236.7 217.5 236.9 228.8 237.1 217.7 237.3 229.3 237.5 217.6 237.7 229.5 237.9 217.6 238.1 229.5 238.3 217.4 238.5 229.2 238.7 216.9 239.0 229.6 239.2 217.8 239.4 228.9 239.6 217.6 239.8 228.9 240.0 216.9 240.2 230.0 240.4 217.2 240.6 229.7 240.8 217.6 241.0 229.2 241.2 217.3 241.4 229.5 241.6 217.3 241.8 229.1 242.0 217.5 242.2 229.1 242.4 217.3 242.6 229.5 242.8 217.6 242.8 223.1 243.0 223.3 243.1 223.1 243.3 223.1 243.4 222.9 243.6 223.1 243.8 223.3 243.9 222.9 244.1 223.3 244.2 223.0 244.4 223.2 244.6 223.3 244.7 223.3 244.9 223.2 245.0 223.1 245.2 223.1 245.4 223.2 245.5 223.2 245.7 223.2 245.8 223.0 246.0 222.9 246.2 222.9 246.3 222.9 246.5 223.0 246.6 223.1 246.8 223.2 247.0 223.0 247.1 223.3 247.3 223.0 247.4 223.3 247.6 223.2 249.5 216.3 249.6 216.1 250.2 216.1 250.9 216.1 251.5 216.1 252.1 216.6 252.7 216.0 253.4 216.3 254.0 216.1 254.6 216.4 255.2 216.5 255.9 216.4 256.5 216.3 257.1 216.0 257.7 216.3 258.4 216.0 259.0 216.3 259.6 216.4 260.3 216.4 260.9 216.2 261.5 216.4 262.1 216.0 262.8 216.1 263.4 216.7 264.0 216.0 264.6 215.9 265.3 216.4 265.9 216.4 266.5 216.1 267.1 216.4 267.8 216.7 268.4 216.6 270.3 223.1 270.4 223.0 270.6 223.2 270.7 223.1 270.9 223.0 271.0 223.2 271.2 222.9 271.3 223.0 271.5 223.0 271.6 223.3 271.8 223.0 271.9 222.9 272.1 223.2 272.2 222.9 272.4 223.0 272.5 223.3 272.7 223.1 272.8 222.9 273.0 223.2 273.1 223.1 273.3 223.0 273.4 223.0 273.6 223.2 273.7 223.0 273.9 223.3 274.0 223.2 274.2 222.9 274.3 223.3 274.5 223.2 274.6 223.0 274.8 223.1 274.9 223.3 275.1 223.1 275.2 223.0 275.4 223.3 275.5 223.2 275.7 223.1 275.8 223.2 276.0 222.9 276.1 222.9 276.3 223.1 276.5 223.3 276.6 223.0 276.8 222.9 276.9 223.0 277.1 222.9 277.2 223.0 277.4 223.3 277.5 223.3 277.7 223.1 277.8 223.0 278.0 223.1 278.1 223.3 278.3 223.3 278.4 223.2 278.6 223.0 278.7 223.2 278.9 223.0 279.0 223.1 279.2 223.1 279.3 223.3 279.5 223.0 279.6 223.2 279.8 223.2 279.9 223.0 280.1 223.1 280.2 222.9 280.4 223.2 280.5 222.9 280.7 223.2 280.8 223.3 281.0 222.9 281.1 222.9 281.3 223.2 281.4 223.0 281.6 223.0 281.7 223.0 281.9 223.2 282.0 223.1 282.2 223.3 282.4 223.2 282.5 223.1 282.7 223.0 282.8 223.1 283.0 222.9 283.1 223.1 283.3 223.0 283.4 223.3 283.6 223.0 283.7 222.9 283.9 223.3 284.0 223.0 284.2 223.1 284.3 223.0 284.5 223.3 284.6 223.2 284.8 222.9 284.9 222.9 285.1 223.1 285.2 223.2 285.4 223.1 285.5 223.2 285.7 223.0 285.8 223.1 286.0 223.0 286.1 223.1 286.3 223.1 286.4 222.9 286.6 223.1 286.7 223.2 286.9 222.9 287.0 222.9 287.2 222.9 287.3 223.2 287.5 223.3 287.6 222.9 287.8 223.3 287.9 223.3 288.1 223.0 288.3 223.1 M306.5 223.1 306.5 223.2 306.7 223.1 306.8 222.9 307.0 223.0 307.1 223.0 307.3 223.0 307.4 223.1 307.6 223.1 307.7 223.1 307.9 223.1 308.0 223.1 308.2 222.9 308.3 223.3 308.5 223.1 308.6 222.9 308.8 222.9 308.9 223.3 309.1 223.2 309.2 223.1 309.4 223.3 309.5 222.9 309.7 223.3 309.8 223.0 310.0 223.2 310.1 223.1 310.3 223.2 310.4 223.0 310.6 223.0 310.7 222.9 310.9 223.1 311.0 223.1 311.2 223.0 311.3 223.2 311.5 223.3 311.6 222.9 311.8 222.9 311.9 223.2 312.1 223.3 312.2 223.2 312.4 222.9 312.5 222.9 312.7 223.1 312.8 222.9 313.0 223.0 313.1 223.0 313.3 223.2 313.4 223.1 313.6 223.2 313.7 223.0 313.9 223.1 314.0 222.9 314.2 223.3 314.3 223.0 314.5 223.0 314.6 223.3 314.8 223.1 314.9 223.3 315.1 222.9 315.2 223.2 315.4 222.9 315.5 223.3 315.7 222.9 315.8 223.1 316.0 223.2 316.2 223.1 316.3 223.3 316.5 223.2 316.6 223.1 316.8 223.3 316.9 223.1 317.1 223.3 317.2 223.3 317.4 223.2 317.5 223.0 317.7 223.3 317.8 223.2 318.0 223.3 318.1 223.2 318.3 223.3 318.4 223.1 318.6 223.3 318.7 223.1 318.9 223.0 319.0 223.3 319.2 222.9 319.3 223.0 319.5 223.3 319.6 223.3 319.8 223.1 319.9 223.2 320.1 223.1 320.2 223.0 320.4 223.3 320.5 222.9 320.7 223.1 320.8 223.2 321.0 223.0 321.1 223.3 321.3 223.0 321.4 223.0 321.6 222.9 321.7 223.0 321.9 223.3 322.0 223.1 322.2 223.1 322.3 223.1 322.5 223.1 322.6 223.2 322.8 223.2 322.9 223.0 323.1 223.1 323.2 223.0 323.4 222.9 323.5 223.2 323.7 223.3 323.8 223.3 324.0 223.1 324.1 223.0 324.3 223.3 324.4 223.1 324.6 223.3 324.7 223.0 324.9 223.2 325.0 223.2 325.2 223.2 325.3 223.0 325.5 223.3 325.7 223.2 325.8 223.0 326.0 222.9 326.1 223.2 326.3 223.0 326.4 223.0 326.6 223.1 326.7 223.0 326.9 222.9 327.0 223.0 327.2 223.0 327.3 223.0 327.5 223.2 327.6 222.9 327.8 223.1 327.9 223.2 328.1 223.1 328.2 222.9 328.4 222.9 328.5 223.2 328.7 223.2 328.8 223.2 329.0 223.0 329.1 223.0 329.3 223.1 329.4 223.0 329.6 223.2 329.7 223.0 329.9 223.1 330.0 223.2 330.2 223.1 330.3 223.0 330.5 222.9 330.6 223.2 330.8 223.3 330.9 223.2 331.1 223.3 331.2 223.2 331.4 223.2 331.5 223.3 331.7 223.3 331.8 223.2 332.0 223.3 332.1 223.1 332.3 222.9 332.4 222.9 332.6 223.1 332.7 222.9 332.9 222.9 333.0 223.1 333.2 223.0 333.3 222.9 333.5 223.3 333.6 223.1 333.8 223.3 333.9 223.3 334.1 223.1 334.2 223.0 334.4 223.0 334.5 223.3 334.7 223.2 334.8 223.1 335.0 223.2 335.2 223.2 335.3 223.1 335.5 222.9 335.6 223.3 335.8 223.1 335.9 223.2 336.1 222.9 336.2 223.1 336.4 223.0 336.5 222.9 336.7 223.3 336.8 222.9 337.0 223.3 337.1 223.0 337.3 223.3 337.4 223.2 337.6 222.9 337.7 223.0 337.9 223.0 338.0 223.3 338.2 223.0 338.3 223.3 338.5 223.0 338.6 223.2 338.8 222.9 338.9 223.2 339.1 223.1 339.2 223.3 339.4 222.9 339.5 223.0 339.7 223.2 339.8 222.9 340.0 222.9 340.1 223.3 340.3 223.2 340.4 223.1 340.6 223.2 340.7 223.0 340.9 223.0 341.0 222.9 341.2 223.3 341.3 223.1 341.5 223.2 341.6 223.2 341.8 223.2 341.9 223.0 342.1 223.2 342.2 223.0 342.4 223.1 342.5 223.2 342.7 223.3 342.8 223.0 343.0 223.0 343.1 223.2 343.3 222.9 343.4 223.1 343.6 223.3 343.7 223.1 343.9 222.9 344.0 223.0 344.2 223.0 344.3 223.2 344.5 223.3 344.5 218.8 344.7 227.4 344.9 218.3 345.1 227.3 345.3 218.7 345.5 227.4 345.7 218.9 345.9 227.3 346.1 218.8 346.4 226.9 346.6 218.9 346.8 227.1 347.0 218.4 347.2 227.4 347.4 218.5 347.6 226.7 347.8 218.4 348.0 227.2 348.2 218.4 348.4 226.9 348.6 218.6 348.8 227.2 349.0 219.0 349.2 226.7 349.4 219.0 349.6 227.6 349.9 219.0 350.1 226.9 350.3 218.9 350.5 227.7 350.7 218.4 350.9 226.9 351.1 218.0 351.3 227.8 351.5 218.5 351.7 227.2 351.9 218.3 352.1 227.6 352.3 218.9 352.5 227.5 352.7 218.3 352.9 227.3 353.1 218.8 353.3 227.3 353.6 218.8 353.8 227.0 354.0 219.0 354.2 226.8 354.4 218.8 354.6 226.8 354.8 218.8 355.0 227.5 355.2 218.3 355.2 223.2 355.4 223.2 355.5 223.3 355.7 222.9 355.8 223.2 356.0 223.2 356.1 223.2 356.3 222.9 356.4 222.9 356.6 223.0 356.7 223.1 356.9 223.0 357.0 223.0 357.2 223.0 357.3 223.1 357.5 223.0 357.6 223.3 357.8 223.3 358.0 223.3 358.1 223.1 358.3 223.0 358.4 223.2 358.6 223.3 358.7 223.1 358.9 223.2 359.0 222.9 359.2 222.9 359.3 223.1 359.5 223.2 359.6 223.2 359.8 223.0 359.9 222.9 360.1 223.3 360.2 223.2 360.4 223.1 360.6 223.2 360.7 223.1 360.9 223.3 361.0 223.2 361.2 223.2 361.3 223.3 361.5 223.3 361.6 223.2 361.8 223.1 361.9 223.2 362.1 223.0 362.2 223.1 362.4 223.2 362.5 223.0 362.7 223.1 362.8 223.2 363.0 223.2 363.2 223.2 363.3 222.9 363.5 223.1 363.6 222.9 363.8 222.9 363.9 223.2 364.1 223.2 364.2 223.0 364.4 223.1 364.5 223.2 364.7 222.9 364.8 223.1 365.0 223.1 365.1 223.0 365.3 223.2 365.4 223.3 365.6 223.1 365.8 223.2 365.9 223.3 366.1 223.3 366.2 223.3 366.4 223.2 366.5 223.2 366.7 223.1 366.8 222.9 367.0 223.3 367.1 223.3 367.3 223.3 367.4 223.3 367.6 223.3 367.7 223.0 367.9 222.9 368.0 222.9 368.2 222.9 M368.6 234.0 369.2 231.2 370.2 237.1 371.0 234.3 371.0 234.1 371.7 234.1 372.4 234.1 373.1 234.4 373.8 234.5 374.6 234.5 375.3 234.7 376.0 234.5 376.7 234.1 377.4 234.2 377.8 236.8 379.0 231.2 380.5 234.2 M381.1 223.1 381.3 223.2 381.4 223.0 381.6 223.3 381.7 222.9 381.9 223.2 382.0 223.2 382.2 223.1 382.3 223.2 382.5 223.1 382.6 223.2 382.8 223.3 382.9 223.0 383.1 223.1 383.2 223.0 383.4 222.9 383.5 223.1 383.7 223.2 383.8 223.0 384.0 223.0 384.1 223.1 384.3 222.9 384.4 223.0 384.6 222.9 384.7 222.9 384.9 223.2 385.0 223.1 385.2 222.9 385.3 222.9 385.5 223.0 385.6 223.2 385.8 223.1 385.9 222.9 386.1 223.3 386.2 223.2 386.4 223.0 386.5 223.3 386.7 223.1 386.8 222.9 387.0 223.1 387.1 223.0 387.3 223.3 387.4 223.2 387.6 223.1 387.7 223.0 387.9 223.3 388.0 223.1 388.2 223.0 388.3 223.3 388.5 223.3 388.6 223.0 388.8 223.0 388.9 222.9 389.1 222.9 389.3 223.2 389.4 223.2 389.6 223.2 389.7 223.0 389.9 222.9 390.0 223.2 390.2 222.9 390.3 223.3 390.5 223.2 390.6 223.1 390.8 222.9 390.9 223.1 391.1 223.0 391.2 223.2 391.4 223.2 391.5 223.2 391.7 223.2 391.8 223.3 392.0 223.3 392.1 223.2 392.3 223.0 392.4 223.0 392.6 223.3 392.7 223.1 392.9 223.1 393.0 223.0 393.2 223.1 393.3 223.1 393.5 223.0 393.6 223.3 393.8 223.0 393.9 223.0 394.1 223.2 394.2 222.9 394.4 222.9 394.5 223.2 394.7 223.1 394.8 223.0 395.0 223.2 395.1 223.0 395.3 223.2 395.4 223.3 395.6 223.1 395.7 223.2 395.9 223.0 396.0 222.9 396.2 223.2 396.3 223.1 396.5 223.2 396.6 223.3 396.8 223.0 397.0 222.9 397.1 222.9 397.3 222.9 397.4 222.9 397.6 222.9 397.7 223.1 397.9 223.0 398.0 222.9 398.2 223.0 398.3 222.9 398.5 223.2 398.6 223.3 398.8 223.1 398.9 223.2 399.1 223.3 399.2 223.0 399.4 222.9 399.5 223.0 399.7 223.0 399.8 222.9 400.0 222.9 400.1 223.3 400.3 223.1 400.4 222.9 400.6 223.3 400.7 222.9 400.9 223.2 401.0 223.3 401.2 222.9 401.3 222.9 401.5 222.9 401.6 223.1 401.8 223.3 401.9 223.1 402.1 223.0 402.2 223.0 402.4 222.9 402.5 222.9 402.7 223.1 402.8 223.1 403.0 223.0 403.1 222.9 403.3 223.0 403.4 223.3 403.6 222.9 403.7 223.1 403.9 223.0 404.0 223.2 404.2 222.9 404.3 223.0 404.5 222.9 404.6 223.2 404.8 223.0 405.0 223.0 405.1 223.2 405.3 223.3 405.4 223.2 405.6 223.1 405.7 223.3 405.9 222.9 406.0 223.0 406.2 222.9 406.3 223.1 406.5 223.1 406.6 223.0 406.8 223.1 406.9 222.9 407.1 223.0 407.2 223.0 407.4 223.0 407.5 223.0 407.7 222.9 407.8 223.1 408.0 223.2 408.1 222.9 408.3 223.3 408.4 222.9 408.6 223.1 408.7 223.0 408.9 222.9 409.0 223.0 409.2 222.9 409.3 223.1 409.5 223.2 409.6 223.0 409.8 222.9 409.9 223.1 410.1 223.1 410.2 223.0 410.4 223.0 410.5 223.3 410.7 223.2 410.8 222.9 411.0 222.9 411.1 223.2 411.3 222.9 411.4 223.1 411.6 222.9 411.7 223.3 411.9 223.3 412.0 223.2 412.2 223.1 412.3 223.3 412.5 223.1 412.6 223.1 412.8 223.3 413.4 216.2 414.5 223.1 414.6 222.9 414.8 223.3 414.9 223.1 415.1 223.2 415.2 223.2 415.4 222.9 415.5 223.1 415.7 223.0 415.8 222.9 416.0 223.1 416.2 223.2 416.3 223.0 416.5 223.2 416.6 223.1 416.8 223.3 416.9 223.3 417.1 223.2 417.2 223.3 417.4 223.1 417.6 222.9 417.7 223.2 417.9 223.3 418.0 223.1 418.2 222.9 418.3 223.2 418.5 223.1 418.6 223.2 418.8 223.1 419.0 223.3 419.1 223.0 419.3 223.1 419.4 222.9 419.6 223.3 419.7 223.3 419.9 223.3 420.0 223.3 420.2 222.9 420.3 223.3 420.5 223.0 420.7 223.2 420.8 223.0 421.0 223.3 421.1 223.3 421.3 223.0 421.4 223.3 421.6 223.2 421.7 223.1 421.9 222.9 422.1 223.0 422.2 223.0 422.4 222.9 422.5 223.2 422.7 223.0 422.8 223.3 423.0 223.3 423.1 223.2 423.3 223.0 424.7 241.7 426.5 232.0 429.3 223.1 429.4 223.3 429.6 223.3 429.7 223.2 429.9 223.1 430.0 223.1 430.2 222.9 430.3 223.2 430.5 223.3 430.6 223.3 430.8 223.0 430.9 223.1 431.1 223.0 431.2 222.9 431.4 223.2 431.5 223.3 431.7 223.1 431.8 223.0 432.0 223.2 432.1 223.0 432.3 223.1 432.4 223.1 432.6 223.1 432.7 223.3 432.9 223.1 433.0 223.2 433.2 223.1 433.3 222.9 433.5 223.0 433.7 223.0 433.8 223.0 434.0 222.9 434.1 223.2 434.3 222.9 434.4 222.9 434.6 222.9 434.7 222.9 434.9 222.9 435.0 223.1 435.2 223.0 435.3 223.1 435.5 223.1 435.6 223.1 435.8 223.3 435.9 223.2 436.1 223.3 436.2 223.1 436.4 223.1 436.5 223.1 436.7 223.1 436.8 223.1 437.0 222.9 437.1 223.3 437.3 223.3 437.4 223.1 437.6 223.3 437.8 223.3 437.9 223.0 438.1 222.9 438.2 222.9 438.4 223.1 438.5 223.3 438.7 223.0 438.8 223.2 439.0 223.2 439.1 223.3 439.3 223.1 439.4 222.9 439.6 223.0 439.7 223.3 439.9 223.2 440.0 223.2 440.2 222.9 440.3 223.2 440.5 223.0 440.6 223.3 440.8 223.1 440.9 223.1 441.1 222.9 441.2 223.0 441.4 223.0 441.6 222.9 441.7 223.0 441.9 223.2 442.0 223.2 442.2 223.0 442.3 223.3 442.5 222.9 442.6 223.3 442.8 223.1 442.9 223.1 443.1 223.2 443.2 223.3 443.4 223.0 443.5 223.2 443.7 223.3 443.8 223.2 444.0 223.0 444.1 223.2 444.3 223.2 444.4 223.3 444.6 223.2 444.7 223.3 444.9 223.3 445.0 222.9 445.2 223.1 445.3 223.3 445.5 223.3" fill="none" stroke="#0000ff" stroke-width="0.8" stroke-linejoin="round"/><path d="M288.3 198.0 288.5 242.2 288.7 196.4 288.9 247.1 289.1 210.8 289.3 243.8 289.5 195.0 289.7 246.1 289.9 201.1 290.1 246.1 290.3 200.4 290.5 243.4 290.8 209.8 291.0 239.9 291.2 201.3 291.4 247.2 291.6 210.5 291.8 244.6 292.0 208.9 292.2 242.7 292.4 210.7 292.6 235.5 292.8 200.3 293.0 237.3 293.2 198.3 293.4 240.6 293.6 191.6 293.8 245.0 294.0 195.6 294.2 244.3 294.4 208.0 294.6 235.3 294.8 198.4 295.0 237.0 295.3 209.8 295.5 256.6 295.7 198.5 295.9 246.3 296.1 209.9 296.3 239.0 296.5 200.0 296.7 242.6 296.9 210.7 297.1 232.9 297.3 205.1 297.5 234.8 297.7 206.8 297.9 245.6 298.1 205.8 298.3 239.2 298.5 204.8 298.7 236.8 298.9 210.8 299.1 240.7 299.3 212.4 299.5 247.7 299.8 203.2 300.0 237.4 300.2 208.9 300.4 239.5 300.6 211.5 300.8 234.5 301.0 200.5 301.2 242.5 301.4 196.5 301.6 241.9 301.8 198.9 302.0 235.9 302.2 189.5 302.4 237.6 302.6 204.1 302.8 234.3 303.0 203.4 303.2 237.3 303.4 210.9 303.6 234.7 303.8 197.5 304.0 245.9 304.3 209.2 304.5 240.0 304.7 199.3 304.9 242.9 305.1 212.3 305.3 241.1 305.5 199.9 305.7 236.4 305.9 196.5 306.1 247.0 306.3 212.0 306.5 234.4" fill="none" stroke="#0000ff" stroke-width="0.5" stroke-linejoin="round"/><path d="M291.5 205 L291.8 186.9 L292.1 205 M305.3 240 L305.6 258.5 L305.9 240" fill="none" stroke="#0000ff" stroke-width="0.5" stroke-linejoin="round"/><path d="M47.20 234.27H62.35M74.50 234.27H96.50M99.30 234.27H112.60M121.30 234.27H149.70M161.60 234.27H182.40M185.20 234.27H195.50M200.30 234.27H226.90M242.70 234.27H247.60M270.30 234.27H288.40M306.50 234.27H344.50M354.90 234.27H368.50M370.40 234.27H377.70M381.00 234.27H412.20M429.20 234.27H445.50" fill="none" stroke="#ff0000" stroke-opacity="0.57" stroke-width="1"/><path d="M62.35 234.77V186.50H74.50V234.77M96.50 234.77V186.50H99.30V234.77M112.60 234.77V186.50H121.30V234.77M149.70 234.77V186.50H161.60V234.77M182.40 234.77V186.50H185.20V234.77M195.50 234.77V186.50H200.30V234.77M226.90 234.77V186.50H242.70V234.77M247.60 234.77V186.50H270.30V234.77M288.40 234.77V186.50H306.50V234.77M344.50 234.77V186.50H354.90V234.77M368.50 234.77V186.50H370.40V234.77M377.70 234.77V186.50H381.00V234.77M412.20 234.77V186.50H429.20V234.77" fill="none" stroke="#ff0000" stroke-opacity="0.57" stroke-width="1"/></g><path d="M46.70 178.10H446.00M46.70 290.45H446.00M47.20 178.10V290.45M445.50 178.10V290.45" stroke="#6e6e6e" stroke-width="1.1" fill="none"/><path d="M47.20 290.45V286.45M47.20 178.10V182.10M96.99 290.45V286.45M96.99 178.10V182.10M146.78 290.45V286.45M146.78 178.10V182.10M196.56 290.45V286.45M196.56 178.10V182.10M246.35 290.45V286.45M246.35 178.10V182.10M296.14 290.45V286.45M296.14 178.10V182.10M345.93 290.45V286.45M345.93 178.10V182.10M395.71 290.45V286.45M395.71 178.10V182.10M445.50 290.45V286.45M445.50 178.10V182.10M47.20 290.45H51.20M445.50 290.45H441.50M47.20 234.27H51.20M445.50 234.27H441.50M47.20 178.10H51.20M445.50 178.10H441.50" stroke="#6e6e6e" stroke-width="1" fill="none"/><text x="47.20" y="306.80" text-anchor="middle">0</text><text x="96.99" y="306.80" text-anchor="middle">20</text><text x="146.78" y="306.80" text-anchor="middle">40</text><text x="196.56" y="306.80" text-anchor="middle">60</text><text x="246.35" y="306.80" text-anchor="middle">80</text><text x="296.14" y="306.80" text-anchor="middle"> 00</text><path transform="translate(284.46 307)" d="M4.6 0H3.25V-7.15H1.15V-8.0C2.3 -8.1 3.0 -8.5 3.3 -9.9H4.6Z"/><text x="345.93" y="306.80" text-anchor="middle"> 20</text><path transform="translate(334.25 307)" d="M4.6 0H3.25V-7.15H1.15V-8.0C2.3 -8.1 3.0 -8.5 3.3 -9.9H4.6Z"/><text x="395.71" y="306.80" text-anchor="middle"> 40</text><path transform="translate(384.03 307)" d="M4.6 0H3.25V-7.15H1.15V-8.0C2.3 -8.1 3.0 -8.5 3.3 -9.9H4.6Z"/><text x="445.50" y="306.80" text-anchor="middle"> 60</text><path transform="translate(433.82 307)" d="M4.6 0H3.25V-7.15H1.15V-8.0C2.3 -8.1 3.0 -8.5 3.3 -9.9H4.6Z"/><text x="43.70" y="295.65" text-anchor="end"><tspan dy=" .3">−</tspan><tspan dy="- .3" dx="0.4">5</tspan></text><text x="43.70" y="239.47" text-anchor="end">0</text><text x="43.70" y="183.30" text-anchor="end">5</text><text x="246.15" y="322.00" text-anchor="middle">Time (s)</text><text transform="translate(17.80 236.35) rotate(-90)" text-anchor="middle">Acceleration (g)</text><rect x="335.50" y="271.50" width="134.8" height="39.5" fill="#fff" stroke="#6e6e6e" stroke-width="1.1"/><path d="M342.00 282.50H377.00" stroke="#0000ff" stroke-opacity="0.6" stroke-width="1"/><path d="M342.00 300.30H377.00" stroke="#ff0000" stroke-opacity="0.6" stroke-width="1"/><text x="381.30" y="287.10">Ay</text><text x="381.30" y="305.10">Actual Marker</text><defs><clipPath id="c2"><rect x="47.20" y="341.70" width="398.30" height="112.40"/></clipPath></defs><g clip-path="url(#c2)"><path d="M47.2 398.4 47.5 398.4 47.7 398.3 48.0 397.4 48.2 397.1 48.5 398.5 48.7 398.0 49.0 397.0 49.2 398.5 49.5 398.6 49.8 397.5 50.0 398.3 50.3 397.1 50.5 397.7 50.8 398.3 51.0 397.7 51.3 397.8 51.5 397.2 51.8 398.3 52.0 397.8 52.3 397.4 52.6 398.2 52.8 398.6 53.1 397.9 53.3 398.2 53.6 398.6 53.8 397.0 54.1 398.0 54.3 398.5 54.6 397.2 54.9 397.4 55.1 397.9 55.4 398.2 55.6 397.9 55.9 397.9 56.1 397.1 56.4 398.2 56.6 397.5 56.9 397.1 57.1 398.5 57.4 398.1 57.7 397.7 57.9 398.2 58.2 397.8 58.4 397.2 58.7 398.0 58.9 398.2 59.2 398.2 59.4 397.9 59.7 398.5 60.0 398.5 60.2 398.4 60.5 397.6 60.7 397.4 61.0 397.8 61.2 398.0 61.5 397.3 61.7 397.9 62.0 397.7 62.2 397.0 62.5 397.7 62.5 395.9 62.7 403.5 62.9 395.3 63.1 400.2 63.3 392.9 63.5 401.7 63.7 395.6 63.9 403.8 64.1 395.3 64.3 401.4 64.6 390.1 64.8 402.4 65.0 390.2 65.2 404.2 65.4 391.1 65.6 403.8 65.8 393.7 66.0 402.7 66.2 392.4 66.4 404.7 66.6 394.0 66.8 402.5 67.0 387.9 67.2 403.4 67.4 390.1 67.6 404.8 67.8 392.9 68.0 402.5 68.2 388.4 68.4 401.4 68.7 393.2 68.9 402.4 69.1 391.9 69.3 404.2 69.5 387.4 69.7 409.3 69.9 394.3 70.1 405.6 70.3 389.0 70.5 403.7 70.7 391.8 70.9 400.9 71.1 387.5 71.3 402.2 71.5 388.0 71.7 400.9 71.9 389.4 72.1 401.1 72.3 390.4 72.5 400.7 72.8 392.2 73.0 407.2 73.2 394.3 73.4 404.4 73.6 392.6 73.8 404.1 74.0 394.1 74.2 404.1 74.4 393.2 74.6 405.4 74.6 397.2 74.9 397.0 75.1 397.4 75.4 397.7 75.6 397.3 75.9 397.5 76.1 398.1 76.4 398.2 76.6 398.3 76.9 398.3 77.1 397.5 77.4 397.9 77.6 398.2 77.9 398.0 78.1 397.9 78.4 398.3 78.7 398.5 78.9 398.4 79.2 397.4 79.4 397.2 79.7 397.5 79.9 398.3 80.2 397.5 80.4 398.2 80.7 397.9 80.9 398.6 81.2 397.2 81.4 398.3 81.7 397.1 81.9 398.0 82.2 397.9 82.5 397.4 82.7 397.4 83.0 397.6 83.2 397.8 83.5 397.3 83.7 397.7 84.0 397.1 84.2 397.8 84.5 397.9 84.7 397.6 85.0 397.8 85.2 397.9 85.5 397.8 85.8 397.3 86.0 397.4 86.3 397.4 86.5 398.6 86.8 397.8 87.0 398.1 87.3 397.3 87.5 397.8 87.8 397.7 88.0 397.3 88.3 397.4 88.5 397.4 88.8 398.2 89.0 398.2 89.3 398.4 89.6 397.5 89.8 397.8 90.1 398.2 90.3 397.9 90.6 398.4 90.8 397.0 91.1 398.1 91.3 397.2 91.6 397.8 91.8 397.6 92.1 397.7 92.3 398.2 92.6 397.1 92.8 397.1 93.1 398.5 93.4 397.8 93.6 397.7 93.9 397.2 94.1 397.8 94.4 398.1 94.6 398.4 94.9 397.6 95.1 397.2 95.4 398.2 95.6 397.5 95.9 398.1 96.1 398.3 96.4 398.5 96.6 397.3 96.9 397.4 97.0 397.8 97.8 394.7 98.5 398.0 99.8 408.5 99.8 409.1 100.0 414.4 100.2 408.8 100.4 414.2 100.6 409.0 100.8 414.3 101.0 409.0 101.2 414.2 101.5 408.8 101.7 414.3 101.9 409.2 102.1 414.5 102.3 408.9 102.5 414.1 102.7 408.8 102.9 414.2 103.1 408.5 103.3 414.4 103.5 409.0 103.7 414.2 103.9 409.0 104.1 414.2 104.3 408.9 104.5 414.6 104.8 409.0 105.0 415.0 105.2 408.7 105.4 414.7 105.6 408.8 105.8 414.2 106.0 408.7 106.2 414.5 106.4 408.6 106.6 414.2 106.8 408.4 107.0 414.4 107.2 409.0 107.4 414.8 107.6 408.9 107.9 414.7 108.1 409.3 108.3 414.6 108.5 409.2 108.7 414.4 108.9 409.2 109.1 414.4 109.3 408.7 109.5 414.1 109.7 409.1 109.9 414.1 110.1 409.1 110.3 414.5 110.5 408.8 110.7 414.2 110.9 409.2 111.2 414.4 111.4 408.9 111.6 414.6 111.8 408.7 112.0 414.2 112.2 409.3 112.4 414.4 112.6 408.7 112.6 415.0 113.5 400.0 114.5 386.5 115.0 395.0 115.1 395.1 115.6 395.9 116.2 397.9 116.7 398.6 117.2 398.5 117.8 398.0 118.3 399.5 118.9 399.2 119.4 399.0 119.9 399.7 120.5 400.3 121.0 400.3 121.0 397.2 121.3 398.5 121.5 397.8 121.8 398.5 122.0 397.7 122.3 398.5 122.5 398.3 122.8 397.1 123.0 398.4 123.3 398.1 123.5 397.9 123.8 397.0 124.0 398.0 124.3 398.0 124.6 398.4 124.8 397.6 125.1 397.1 125.3 398.2 125.6 397.6 125.8 397.5 126.1 398.1 126.3 397.1 126.6 397.0 126.8 398.6 127.1 398.4 127.3 398.3 127.6 397.8 127.9 397.6 128.1 397.3 128.4 397.1 128.6 398.3 128.9 397.4 129.1 398.2 129.4 397.1 129.6 397.4 129.9 397.7 130.1 397.6 130.4 397.3 130.7 398.2 130.9 397.1 131.2 398.0 131.4 397.9 131.7 397.8 131.9 397.3 132.2 398.0 132.4 398.1 132.7 397.9 132.9 397.9 133.2 397.9 133.4 397.7 133.7 397.9 134.0 397.8 134.2 397.5 134.5 398.4 134.7 397.5 135.0 397.2 135.2 398.0 135.5 398.4 135.7 397.2 136.0 397.0 136.2 397.5 136.5 397.4 136.7 397.2 137.0 397.4 137.3 397.7 137.5 397.4 137.8 397.9 138.0 397.7 138.3 397.6 138.5 397.2 138.8 398.2 139.0 398.0 139.3 397.9 139.5 397.5 139.8 398.6 140.0 398.2 140.3 398.3 140.6 397.9 140.8 398.0 141.1 398.1 141.3 397.5 141.6 397.4 141.8 398.2 142.1 397.5 142.3 397.0 142.6 397.7 142.8 398.4 143.1 397.7 143.4 397.9 143.6 398.4 143.9 397.2 144.1 397.3 144.4 397.0 144.6 397.6 144.9 397.2 145.1 397.9 145.4 397.5 145.6 397.1 145.9 398.2 146.1 398.2 146.4 398.5 146.7 397.6 146.9 397.9 147.2 398.0 147.4 398.4 147.7 398.5 147.9 397.5 148.2 397.3 148.4 397.4 148.7 397.4 148.9 398.2 149.2 398.0 149.4 397.2 149.7 398.0 149.7 403.9 149.9 386.9 150.1 406.9 150.3 389.7 150.5 401.5 150.7 393.8 150.9 404.1 151.1 393.6 151.3 406.3 151.5 392.8 151.8 405.8 152.0 391.1 152.2 405.4 152.4 390.7 152.6 403.3 152.8 389.4 153.0 401.2 153.2 390.3 153.4 402.6 153.6 389.4 153.8 401.3 154.0 393.0 154.2 401.6 154.4 392.1 154.6 403.3 154.8 390.2 155.0 402.5 155.2 384.4 155.4 401.0 155.6 389.6 155.9 401.2 156.1 393.7 156.3 404.2 156.5 391.8 156.7 402.9 156.9 389.6 157.1 400.8 157.3 391.6 157.5 403.6 157.7 391.5 157.9 402.3 158.1 390.7 158.3 403.0 158.5 388.8 158.7 402.0 158.9 387.9 159.1 402.4 159.3 390.6 159.5 404.9 159.8 392.2 160.0 403.6 160.2 390.6 160.4 406.5 160.6 389.6 160.8 402.3 161.0 392.8 161.2 404.9 161.4 391.8 161.6 401.7 161.6 397.8 161.9 398.1 162.1 397.8 162.4 397.5 162.6 397.6 162.9 397.1 163.1 397.0 163.4 398.5 163.6 397.6 163.9 398.2 164.1 398.1 164.4 397.4 164.7 397.5 164.9 398.0 165.2 397.8 165.4 398.0 165.7 397.9 165.9 397.8 166.2 398.0 166.4 397.7 166.7 397.1 166.9 397.8 167.2 398.5 167.5 398.2 167.7 397.4 168.0 397.8 168.2 397.2 168.5 398.1 168.7 397.6 169.0 397.9 169.2 398.6 169.5 398.0 169.8 398.3 170.0 397.0 170.3 397.5 170.5 397.9 170.8 397.3 171.0 397.9 171.3 397.5 171.5 397.7 171.8 397.1 172.0 398.1 172.3 397.4 172.6 397.5 172.8 397.3 173.1 397.4 173.3 397.2 173.6 398.6 173.8 398.3 174.1 398.2 174.3 397.1 174.6 397.4 174.8 398.5 175.1 398.4 175.4 397.3 175.6 397.9 175.9 398.1 176.1 397.7 176.4 397.5 176.6 397.4 176.9 398.1 177.1 397.5 177.4 398.2 177.7 397.0 177.9 397.9 178.2 398.4 178.4 397.2 178.7 397.0 178.9 398.2 179.2 397.3 179.4 397.9 179.7 397.0 179.9 397.8 180.2 397.7 180.5 397.0 180.7 397.5 181.0 397.7 181.2 397.8 181.5 397.5 181.7 398.0 182.0 398.2 182.2 397.2 182.5 398.5 182.7 397.6 183.0 398.0 183.3 397.8 183.6 402.5 184.5 399.0 185.2 393.2 185.2 391.5 185.4 394.7 185.6 391.3 185.8 394.7 186.0 391.8 186.2 395.0 186.4 391.6 186.6 394.8 186.8 391.5 187.1 395.0 187.3 391.8 187.5 394.7 187.7 391.8 187.9 394.8 188.1 391.7 188.3 394.6 188.5 391.8 188.7 394.6 188.9 391.5 189.1 394.6 189.3 391.8 189.5 394.7 189.7 391.7 189.9 394.7 190.1 391.7 190.3 394.8 190.6 391.8 190.8 394.8 191.0 391.7 191.2 394.7 191.4 391.6 191.6 394.8 191.8 391.8 192.0 394.6 192.2 391.6 192.4 394.7 192.6 391.7 192.8 394.8 193.0 391.6 193.2 394.6 193.4 391.6 193.6 394.8 193.8 391.6 194.1 394.8 194.3 391.5 194.5 394.6 194.7 391.3 194.9 394.7 195.1 391.8 195.3 394.8 195.5 391.6 195.7 394.8 195.8 394.0 196.2 402.5 197.0 396.0 197.0 396.0 197.5 397.1 198.0 397.0 198.5 397.4 199.0 398.0 199.5 397.3 200.0 397.4 200.0 397.6 200.3 398.4 200.5 397.2 200.8 397.9 201.0 398.1 201.3 397.1 201.5 398.4 201.8 398.3 202.0 397.0 202.3 397.7 202.5 397.7 202.8 398.2 203.0 397.0 203.3 397.6 203.6 397.1 203.8 397.8 204.1 397.1 204.3 398.3 204.6 397.5 204.8 397.0 205.1 397.5 205.3 397.9 205.6 397.3 205.8 397.2 206.1 398.2 206.3 397.9 206.6 397.1 206.9 398.1 207.1 397.1 207.4 398.3 207.6 398.3 207.9 397.4 208.1 397.0 208.4 397.9 208.6 397.9 208.9 397.5 209.1 397.6 209.4 397.0 209.6 398.5 209.9 397.2 210.2 397.7 210.4 397.4 210.7 398.0 210.9 397.4 211.2 397.1 211.4 397.8 211.7 397.4 211.9 398.0 212.2 397.5 212.4 398.4 212.7 397.9 212.9 397.8 213.2 397.8 213.4 397.9 213.7 397.9 214.0 397.8 214.2 397.3 214.5 398.2 214.7 397.6 215.0 397.4 215.2 398.0 215.5 398.0 215.7 397.6 216.0 398.1 216.2 397.3 216.5 397.1 216.7 397.3 217.0 398.2 217.3 397.2 217.5 398.0 217.8 397.9 218.0 397.9 218.3 397.5 218.5 397.7 218.8 398.3 219.0 397.6 219.3 397.1 219.5 397.7 219.8 397.1 220.0 397.2 220.3 397.4 220.6 397.8 220.8 397.9 221.1 397.7 221.3 397.1 221.6 397.2 221.8 397.9 222.1 397.0 222.3 398.2 222.6 397.9 222.8 397.9 223.1 398.4 223.3 397.2 223.6 398.0 223.9 397.7 224.1 398.2 224.4 398.0 224.6 397.9 224.9 397.7 225.1 398.4 225.4 397.9 225.6 397.3 225.9 397.2 226.1 398.5 226.4 398.5 226.6 398.1 226.9 398.3 226.9 400.1 227.1 390.8 227.3 401.2 227.5 388.9 227.7 403.1 227.9 392.3 228.1 400.2 228.3 393.1 228.5 400.1 228.7 392.6 229.0 400.8 229.2 392.3 229.4 402.5 229.6 386.1 229.8 401.0 230.0 385.9 230.2 403.2 230.4 390.6 230.6 399.0 230.8 393.1 231.0 403.0 231.2 389.8 231.4 402.1 231.6 392.5 231.8 402.9 232.0 393.8 232.2 403.0 232.4 393.3 232.6 401.0 232.9 390.4 233.1 400.4 233.3 391.0 233.5 401.7 233.7 392.2 233.9 399.1 234.1 390.9 234.3 399.7 234.5 393.7 234.7 400.4 234.9 390.6 235.1 399.3 235.3 390.2 235.5 400.2 235.7 394.0 235.9 400.4 236.1 392.5 236.3 399.2 236.5 389.3 236.7 404.9 237.0 393.8 237.2 399.1 237.4 390.7 237.6 402.8 237.8 389.3 238.0 401.1 238.2 386.0 238.4 401.6 238.6 393.2 238.8 401.9 239.0 390.6 239.2 402.0 239.4 390.1 239.6 402.7 239.8 393.8 240.0 399.0 240.2 389.2 240.4 402.1 240.6 392.6 240.9 401.6 241.1 391.9 241.3 402.2 241.5 387.1 241.7 399.3 241.9 390.1 242.1 399.3 242.3 390.4 242.5 399.7 242.7 393.5 242.7 398.1 243.0 398.5 243.2 398.3 243.5 398.4 243.7 397.7 244.0 398.4 244.2 398.4 244.5 398.0 244.7 398.0 245.0 397.1 245.2 397.5 245.5 398.6 245.7 398.1 246.0 398.5 246.2 398.3 246.5 398.1 246.7 397.6 247.0 397.9 247.2 397.4 247.5 397.3 247.7 397.8 248.0 397.8 248.2 398.2 248.5 398.2 248.7 397.6 249.0 397.4 249.2 398.1 249.5 397.3 249.7 397.5 250.0 397.8 250.2 398.2 250.5 397.7 250.7 397.6 251.0 398.1 251.2 398.2 251.5 397.9 251.7 398.2 252.0 397.7 252.3 398.5 252.5 398.0 252.8 397.4 253.0 397.4 253.3 398.1 253.5 397.1 253.8 397.9 254.0 398.1 254.3 397.7 254.5 398.5 254.8 398.3 255.0 397.9 255.3 397.8 255.5 398.0 255.8 398.2 256.0 398.4 256.3 397.5 256.5 397.6 256.8 397.9 257.0 398.2 257.3 398.0 257.5 398.6 257.8 397.8 258.0 397.7 258.3 398.1 258.5 398.6 258.8 398.1 259.0 397.9 259.3 397.9 259.5 397.1 259.8 397.1 260.0 397.9 260.3 397.4 260.5 398.2 260.8 397.9 261.1 398.3 261.3 398.2 261.6 397.8 261.8 398.3 262.1 397.5 262.3 398.3 262.6 397.9 262.8 398.5 263.1 397.9 263.3 397.5 263.6 398.4 263.8 398.2 264.1 398.3 264.3 397.9 264.6 398.4 264.8 397.3 265.1 397.8 265.3 397.2 265.6 398.2 265.8 397.4 266.1 397.7 266.3 397.7 266.6 397.6 266.8 397.7 267.1 398.0 267.3 397.5 267.6 397.6 267.8 397.2 268.1 397.3 268.3 397.2 268.6 397.6 268.8 397.2 269.1 397.3 269.3 398.5 269.6 398.0 269.8 398.1 270.1 398.3 270.4 397.3 270.6 397.6 270.9 397.7 271.1 398.4 271.4 398.0 271.6 398.3 271.9 397.9 272.1 397.5 272.4 397.9 272.6 397.4 272.9 398.2 273.1 398.0 273.4 397.5 273.6 398.0 273.9 397.3 274.1 398.3 274.4 397.3 274.6 397.8 274.9 397.6 275.1 397.1 275.4 397.8 275.6 397.0 275.9 397.0 276.1 397.4 276.4 398.4 276.6 397.0 276.9 397.3 277.1 397.4 277.4 398.1 277.6 398.0 277.9 398.4 278.1 397.8 278.4 397.6 278.6 398.5 278.9 397.7 279.2 397.3 279.4 397.3 279.7 397.3 279.9 397.9 280.2 397.6 280.4 397.1 280.7 397.6 280.9 397.1 281.2 398.1 281.4 398.1 281.7 398.2 281.9 398.4 282.2 398.1 282.4 397.1 282.7 397.2 282.9 398.3 283.2 397.7 283.4 398.5 283.7 397.1 283.9 398.4 284.2 397.1 284.4 398.2 284.7 397.5 284.9 398.1 285.2 397.0 285.4 397.3 285.7 398.1 285.9 397.4 286.2 397.2 286.4 397.7 286.7 398.1 286.9 397.8 287.2 397.1 287.4 398.6 287.7 397.1 287.9 397.9 288.2 397.7 288.3 397.8 M306.5 397.8 306.5 397.9 306.8 398.3 307.0 397.8 307.3 397.1 307.5 398.1 307.8 397.4 308.0 397.7 308.3 397.2 308.5 397.3 308.8 397.7 309.0 397.5 309.3 397.4 309.5 398.5 309.8 398.0 310.0 397.2 310.3 397.1 310.5 397.1 310.8 397.4 311.0 398.2 311.3 398.2 311.5 397.9 311.8 397.5 312.1 398.3 312.3 398.1 312.6 397.7 312.8 397.9 313.1 398.4 313.3 397.6 313.6 398.3 313.8 398.4 314.1 397.0 314.3 397.7 314.6 398.2 314.8 397.6 315.1 397.2 315.3 398.0 315.6 398.4 315.8 397.5 316.1 398.2 316.3 398.4 316.6 397.8 316.8 398.3 317.1 397.8 317.3 397.7 317.6 397.9 317.9 397.6 318.1 398.3 318.4 398.0 318.6 398.0 318.9 398.2 319.1 397.6 319.4 397.9 319.6 398.2 319.9 398.3 320.1 398.1 320.4 397.3 320.6 397.8 320.9 397.1 321.1 397.4 321.4 397.2 321.6 397.1 321.9 397.2 322.1 397.2 322.4 398.2 322.6 397.7 322.9 397.5 323.2 397.3 323.4 398.1 323.7 397.6 323.9 398.0 324.2 397.4 324.4 397.1 324.7 398.1 324.9 398.1 325.2 398.1 325.4 398.3 325.7 397.7 325.9 397.4 326.2 398.4 326.4 397.7 326.7 398.3 326.9 397.1 327.2 397.0 327.4 397.2 327.7 398.5 327.9 398.1 328.2 398.1 328.5 398.3 328.7 398.6 329.0 397.7 329.2 397.2 329.5 398.2 329.7 398.3 330.0 398.1 330.2 397.3 330.5 398.1 330.7 397.9 331.0 398.2 331.2 398.1 331.5 398.5 331.7 397.4 332.0 397.6 332.2 397.1 332.5 398.0 332.7 397.7 333.0 398.4 333.2 397.2 333.5 398.0 333.8 398.4 334.0 397.8 334.3 398.0 334.5 398.5 334.8 398.4 335.0 397.0 335.3 397.9 335.5 397.5 335.8 397.7 336.0 397.4 336.3 398.6 336.5 398.0 336.8 397.6 337.0 398.1 337.3 397.2 337.5 398.4 337.8 398.4 338.0 398.1 338.3 397.3 338.5 398.1 338.8 397.0 339.0 397.1 339.3 397.7 339.6 397.3 339.8 398.0 340.1 398.1 340.3 397.8 340.6 397.3 340.8 398.6 341.1 398.2 341.3 398.5 341.6 397.2 341.8 397.1 342.1 397.1 342.3 398.0 342.6 398.3 342.8 397.6 343.1 398.6 343.3 398.2 343.6 397.4 343.8 398.2 344.1 397.7 344.3 397.2 344.6 397.0 344.6 389.4 344.8 401.4 345.0 393.3 345.2 401.6 345.4 390.5 345.6 401.9 345.8 393.4 346.1 401.8 346.3 387.3 346.5 401.4 346.7 389.2 346.9 402.4 347.1 389.8 347.3 405.9 347.5 392.5 347.7 402.3 347.9 388.9 348.1 403.0 348.3 392.8 348.5 402.8 348.8 393.1 349.0 400.8 349.2 394.1 349.4 401.0 349.6 393.6 349.8 401.8 350.0 394.9 350.2 401.1 350.4 392.6 350.6 400.8 350.8 391.4 351.0 400.8 351.3 393.2 351.5 401.3 351.7 391.8 351.9 404.7 352.1 393.3 352.3 400.8 352.5 390.9 352.7 403.6 352.9 390.2 353.1 405.0 353.3 392.2 353.5 400.9 353.7 393.4 354.0 402.6 354.2 392.6 354.4 402.3 354.6 389.3 354.8 401.5 355.0 390.9 355.2 403.3 355.2 397.4 355.5 397.5 355.7 397.1 356.0 397.0 356.2 397.4 356.5 397.0 356.7 398.2 357.0 398.4 357.2 398.1 357.5 397.7 357.7 397.8 358.0 398.1 358.3 397.4 358.5 397.9 358.8 398.5 359.0 398.2 359.3 397.3 359.5 398.1 359.8 397.4 360.0 398.1 360.3 397.1 360.5 398.4 360.8 398.0 361.1 398.1 361.3 398.1 361.6 397.5 361.8 397.1 362.1 398.3 362.3 398.2 362.6 397.5 362.8 398.3 363.1 397.7 363.3 397.7 363.6 397.8 363.9 397.6 364.1 397.6 364.4 398.5 364.6 397.1 364.9 397.6 365.1 398.0 365.4 398.1 365.6 397.4 365.9 397.9 366.1 397.6 366.4 398.3 366.7 398.1 366.9 397.0 367.2 397.6 367.4 398.4 367.7 398.1 367.9 398.5 368.2 398.2 368.4 397.3 368.7 397.3 368.9 398.5 369.2 397.1 369.5 397.8 369.8 395.0 370.2 408.5 370.2 409.1 370.4 414.6 370.6 408.8 370.8 414.8 371.0 408.4 371.2 414.7 371.4 408.5 371.6 414.7 371.8 409.1 372.0 414.4 372.3 409.0 372.5 414.9 372.7 409.2 372.9 415.0 373.1 409.0 373.3 414.5 373.5 408.9 373.7 414.6 373.9 409.0 374.1 414.9 374.3 409.1 374.5 414.6 374.7 408.9 374.9 414.8 375.1 409.2 375.3 414.5 375.5 409.0 375.7 414.9 375.9 409.2 376.2 414.8 376.4 409.0 376.6 414.8 376.8 409.0 377.0 414.8 377.2 408.8 377.4 414.4 377.6 408.7 377.8 414.9 378.0 409.2 378.1 408.5 378.5 395.0 378.6 396.0 379.2 397.3 379.8 397.5 380.4 397.4 381.0 397.4 381.0 397.4 381.3 397.6 381.5 398.5 381.8 397.6 382.0 398.0 382.3 398.5 382.5 397.5 382.8 397.3 383.0 397.0 383.3 398.0 383.5 398.2 383.8 397.8 384.0 397.7 384.3 397.1 384.5 397.7 384.8 398.2 385.0 397.5 385.3 398.5 385.5 397.1 385.8 397.8 386.0 398.1 386.3 397.1 386.5 398.2 386.8 397.7 387.0 397.6 387.3 397.8 387.6 398.4 387.8 398.0 388.1 397.9 388.3 398.5 388.6 397.5 388.8 397.9 389.1 397.6 389.3 397.8 389.6 398.4 389.8 397.2 390.1 398.5 390.3 398.3 390.6 397.2 390.8 397.4 391.1 397.6 391.3 397.2 391.6 397.5 391.8 398.1 392.1 397.5 392.3 397.6 392.6 397.9 392.8 398.3 393.1 397.9 393.3 397.1 393.6 397.8 393.9 397.1 394.1 397.2 394.4 397.4 394.6 397.1 394.9 397.4 395.1 397.5 395.4 397.3 395.6 398.3 395.9 398.1 396.1 397.2 396.4 398.2 396.6 397.2 396.9 397.1 397.1 398.2 397.4 397.4 397.6 397.1 397.9 397.4 398.1 397.9 398.4 398.2 398.6 398.2 398.9 398.5 399.1 398.3 399.4 398.5 399.7 397.6 399.9 398.0 400.2 397.2 400.4 397.5 400.7 397.7 400.9 398.4 401.2 398.5 401.4 398.0 401.7 397.8 401.9 398.1 402.2 398.1 402.4 397.6 402.7 398.5 402.9 397.9 403.2 398.3 403.4 397.6 403.7 398.1 403.9 397.7 404.2 398.0 404.4 398.3 404.7 397.0 404.9 397.1 405.2 397.3 405.4 398.2 405.7 397.6 406.0 398.5 406.2 397.4 406.5 397.3 406.7 397.6 407.0 397.8 407.2 398.4 407.5 398.6 407.7 397.4 408.0 397.2 408.2 398.1 408.5 398.0 408.7 398.5 409.0 397.2 409.2 398.4 409.5 398.1 409.7 397.8 410.0 398.3 410.2 398.1 410.5 398.3 410.7 397.8 411.0 397.3 411.2 397.9 411.5 397.3 411.7 398.2 412.0 398.3 412.0 398.3 412.3 397.4 412.6 398.4 412.9 397.4 413.2 397.8 413.5 397.9 413.9 398.4 414.2 398.0 414.5 397.7 414.8 397.0 415.1 397.0 415.4 398.4 415.7 398.4 416.0 398.0 416.3 398.1 416.6 397.6 416.9 397.9 417.3 398.4 417.6 397.1 417.9 397.6 418.2 398.4 418.5 398.0 418.8 398.0 419.1 397.1 419.4 397.7 419.7 397.5 420.0 397.3 420.3 397.9 420.7 397.3 421.0 398.4 421.3 397.7 421.6 398.0 421.9 397.4 422.2 397.3 422.5 398.5 422.8 397.6 423.1 398.1 423.4 397.6 423.7 398.2 424.1 398.5 424.4 397.9 424.7 397.8 425.0 397.5 425.3 397.1 425.6 398.0 425.9 397.4 426.2 397.2 426.5 398.5 426.8 398.6 427.1 397.3 427.5 398.2 427.8 398.3 428.1 397.5 428.4 398.1 428.7 397.0 429.0 397.3 429.0 397.9 429.3 397.7 429.5 397.2 429.8 397.7 430.0 398.1 430.3 397.4 430.5 397.2 430.8 397.1 431.0 398.2 431.3 397.4 431.5 397.8 431.8 397.5 432.0 397.8 432.3 398.6 432.5 398.4 432.8 398.1 433.0 397.7 433.3 397.6 433.5 398.6 433.8 397.0 434.0 398.1 434.3 398.4 434.6 397.7 434.8 397.3 435.1 397.1 435.3 398.4 435.6 397.8 435.8 397.8 436.1 398.4 436.3 398.2 436.6 397.1 436.8 397.3 437.1 398.5 437.3 398.2 437.6 398.0 437.8 398.3 438.1 398.3 438.3 397.1 438.6 397.3 438.8 398.4 439.1 397.5 439.4 398.1 439.6 397.3 439.9 397.4 440.1 397.5 440.4 398.5 440.6 398.3 440.9 397.7 441.1 398.0 441.4 397.3 441.6 397.2 441.9 397.7 442.1 397.8 442.4 398.6 442.6 397.5 442.9 398.3 443.1 398.1 443.4 397.3 443.6 397.6 443.9 397.4 444.1 398.0 444.4 397.0 444.7 397.9 444.9 398.4 445.2 398.0 445.4 397.5 445.7 398.0 445.9 397.6 446.2 398.0 446.4 398.5 446.7 397.7 446.9 398.3 447.2 397.6 447.4 398.5 447.7 397.5 447.9 398.6 448.2 397.3 448.4 397.4 448.7 398.0 448.9 397.6 449.2 397.2 449.4 397.5 449.7 397.3 450.0 397.1 450.2 397.3 450.5 398.5 450.7 397.9 451.0 398.1 451.2 397.1 451.5 397.6 451.7 397.9 452.0 397.9 452.2 398.5 452.5 398.1 452.7 398.5 453.0 398.0 453.2 397.4 453.5 397.1 453.7 398.5 454.0 397.1 454.2 397.5 454.5 397.7 454.8 397.9 455.0 398.3 455.3 397.8 455.5 398.4 455.8 397.8 456.0 397.7 456.3 398.5 456.5 398.4 456.8 397.6 457.0 397.8 457.3 398.2 457.5 397.4 457.8 398.0 458.0 397.3 458.3 398.2 458.5 398.4 458.8 397.6 459.0 397.0 459.3 397.8 459.5 398.5 459.8 398.5 460.1 398.0 460.3 398.4 460.6 397.9 460.8 397.3 461.1 398.0 461.3 397.6 461.6 398.6 461.8 398.5 462.1 398.6 462.3 398.3 462.6 398.2 462.8 397.7 463.1 397.7 463.3 398.5 463.6 398.4 463.8 397.5 464.1 397.4 464.3 397.9 464.6 397.4 464.9 398.4 465.1 398.5 465.4 397.5 465.6 398.3 465.9 398.0 466.1 397.8 466.4 397.1 466.6 397.8 466.9 397.4 467.1 397.1 467.4 397.5 467.6 397.0 467.9 398.5 468.1 397.1 468.4 397.8 468.6 398.4 468.9 397.1 469.1 397.5 469.4 397.9 469.6 397.3 469.9 398.1" fill="none" stroke="#0000ff" stroke-width="0.8" stroke-linejoin="round"/><path d="M288.3 383.9 288.5 433.3 288.7 381.8 288.9 428.5 289.1 378.0 289.3 421.6 289.5 380.6 289.7 417.0 289.9 368.2 290.1 415.2 290.3 369.1 290.5 415.0 290.8 382.1 291.0 411.2 291.2 354.4 291.4 414.7 291.6 371.8 291.8 412.0 292.0 378.6 292.2 418.7 292.4 380.4 292.6 412.7 292.8 369.4 293.0 416.5 293.2 383.0 293.4 419.4 293.6 382.9 293.8 414.0 294.0 380.2 294.2 420.5 294.4 379.8 294.6 430.9 294.8 379.4 295.0 413.2 295.3 366.0 295.5 423.8 295.7 380.6 295.9 415.8 296.1 381.8 296.3 436.1 296.5 367.8 296.7 418.1 296.9 366.1 297.1 419.1 297.3 364.6 297.5 426.1 297.7 368.4 297.9 433.4 298.1 369.5 298.3 415.4 298.5 373.2 298.7 421.7 298.9 380.7 299.1 420.9 299.3 378.7 299.5 421.1 299.8 369.9 300.0 426.9 300.2 368.1 300.4 427.3 300.6 369.1 300.8 427.8 301.0 363.7 301.2 430.3 301.4 376.5 301.6 428.9 301.8 363.4 302.0 421.9 302.2 369.8 302.4 417.2 302.6 367.8 302.8 422.6 303.0 376.3 303.2 416.0 303.4 367.3 303.6 431.7 303.8 372.2 304.0 414.1 304.3 376.8 304.5 417.2 304.7 368.9 304.9 417.4 305.1 378.5 305.3 424.7 305.5 380.7 305.7 421.5 305.9 371.2 306.1 413.0 306.3 373.8 306.5 411.6" fill="none" stroke="#0000ff" stroke-width="0.5" stroke-linejoin="round"/><path d="M295.4 370 L295.7 344.6 L296 370 M297.8 415 L298.1 439.8 L298.4 415 M288.3 415 L288.6 435 L288.9 415" fill="none" stroke="#0000ff" stroke-width="0.5" stroke-linejoin="round"/><path d="M47.20 397.90H62.35M74.50 397.90H96.50M99.30 397.90H112.60M121.30 397.90H149.70M161.60 397.90H182.40M185.20 397.90H195.50M200.30 397.90H226.90M242.70 397.90H247.60M270.30 397.90H288.40M306.50 397.90H344.50M354.90 397.90H368.50M370.40 397.90H377.70M381.00 397.90H412.20M429.20 397.90H445.50" fill="none" stroke="#ff0000" stroke-opacity="0.42" stroke-width="1"/><path d="M62.35 398.40V345.10H74.50V398.40M96.50 398.40V345.10H99.30V398.40M112.60 398.40V345.10H121.30V398.40M149.70 398.40V345.10H161.60V398.40M182.40 398.40V345.10H185.20V398.40M195.50 398.40V345.10H200.30V398.40M226.90 398.40V345.10H242.70V398.40M247.60 398.40V345.10H270.30V398.40M288.40 398.40V345.10H306.50V398.40M344.50 398.40V345.10H354.90V398.40M368.50 398.40V345.10H370.40V398.40M377.70 398.40V345.10H381.00V398.40M412.20 398.40V345.10H429.20V398.40" fill="none" stroke="#ff0000" stroke-opacity="0.57" stroke-width="1"/></g><path d="M46.70 341.70H446.00M46.70 454.10H446.00M47.20 341.70V454.10M445.50 341.70V454.10" stroke="#6e6e6e" stroke-width="1.1" fill="none"/><path d="M47.20 454.10V450.10M47.20 341.70V345.70M96.99 454.10V450.10M96.99 341.70V345.70M146.78 454.10V450.10M146.78 341.70V345.70M196.56 454.10V450.10M196.56 341.70V345.70M246.35 454.10V450.10M246.35 341.70V345.70M296.14 454.10V450.10M296.14 341.70V345.70M345.93 454.10V450.10M345.93 341.70V345.70M395.71 454.10V450.10M395.71 341.70V345.70M445.50 454.10V450.10M445.50 341.70V345.70M47.20 454.10H51.20M445.50 454.10H441.50M47.20 397.90H51.20M445.50 397.90H441.50M47.20 341.70H51.20M445.50 341.70H441.50" stroke="#6e6e6e" stroke-width="1" fill="none"/><text x="47.20" y="470.20" text-anchor="middle">0</text><text x="96.99" y="470.20" text-anchor="middle">20</text><text x="146.78" y="470.20" text-anchor="middle">40</text><text x="196.56" y="470.20" text-anchor="middle">60</text><text x="246.35" y="470.20" text-anchor="middle">80</text><text x="296.14" y="470.20" text-anchor="middle"> 00</text><path transform="translate(284.46 470)" d="M4.6 0H3.25V-7.15H1.15V-8.0C2.3 -8.1 3.0 -8.5 3.3 -9.9H4.6Z"/><text x="345.93" y="470.20" text-anchor="middle"> 20</text><path transform="translate(334.25 470)" d="M4.6 0H3.25V-7.15H1.15V-8.0C2.3 -8.1 3.0 -8.5 3.3 -9.9H4.6Z"/><text x="395.71" y="470.20" text-anchor="middle"> 40</text><path transform="translate(384.03 470)" d="M4.6 0H3.25V-7.15H1.15V-8.0C2.3 -8.1 3.0 -8.5 3.3 -9.9H4.6Z"/><text x="445.50" y="470.20" text-anchor="middle"> 60</text><path transform="translate(433.82 470)" d="M4.6 0H3.25V-7.15H1.15V-8.0C2.3 -8.1 3.0 -8.5 3.3 -9.9H4.6Z"/><text x="43.70" y="459.30" text-anchor="end"><tspan dy=" .3">−</tspan><tspan dy="- .3" dx="0.4"> </tspan></text><path transform="translate(35.91 459)" d="M4.6 0H3.25V-7.15H1.15V-8.0C2.3 -8.1 3.0 -8.5 3.3 -9.9H4.6Z"/><text x="43.70" y="403.10" text-anchor="end">0</text><text x="43.70" y="346.90" text-anchor="end"> </text><path transform="translate(35.91 347)" d="M4.6 0H3.25V-7.15H1.15V-8.0C2.3 -8.1 3.0 -8.5 3.3 -9.9H4.6Z"/><text x="246.15" y="486.00" text-anchor="middle">Time (s)</text><text transform="translate(20.00 398.45) rotate(-90)" text-anchor="middle">Acceleration (g)</text><rect x="334.50" y="433.30" width="134.8" height="39.5" fill="#fff" stroke="#6e6e6e" stroke-width="1.1"/><path d="M341.00 444.30H376.00" stroke="#0000ff" stroke-opacity="0.6" stroke-width="1"/><path d="M341.00 462.10H376.00" stroke="#ff0000" stroke-opacity="0.6" stroke-width="1"/><text x="380.30" y="448.90">Az</text><text x="380.30" y="466.90">Actual Marker</text><defs><clipPath id="c3"><rect x="571.50" y="14.50" width="398.40" height="112.00"/></clipPath></defs><g clip-path="url(#c3)"><path d="M571.5 71.7 572.1 71.3 572.8 71.6 573.4 71.7 574.1 71.5 574.7 71.4 575.4 71.6 576.0 71.6 576.7 71.4 577.3 71.5 578.0 71.6 578.6 71.0 579.3 71.5 579.9 71.6 580.6 71.3 581.2 71.4 581.9 71.2 582.5 71.5 583.2 71.8 583.8 71.2 584.5 71.4 585.1 71.8 585.8 71.4 586.4 71.3 586.4 75.4 586.6 64.7 586.8 81.6 587.0 60.5 587.2 78.7 587.4 61.6 587.6 78.3 587.8 64.4 588.0 75.5 588.2 61.9 588.5 77.5 588.7 61.7 588.9 78.3 589.1 65.0 589.3 75.1 589.5 61.0 589.7 78.8 589.9 62.7 590.1 79.0 590.3 64.4 590.5 75.6 590.7 61.5 590.9 75.0 591.1 65.1 591.3 78.9 591.5 62.0 591.7 77.2 591.9 64.6 592.1 76.1 592.3 62.8 592.5 78.2 592.8 62.5 593.0 74.8 593.2 60.7 593.4 76.0 593.6 61.5 593.8 74.9 594.0 64.6 594.2 75.8 594.4 59.6 594.6 75.3 594.8 62.8 595.0 76.5 595.2 64.5 595.4 76.9 595.6 61.2 595.8 74.8 596.0 60.4 596.2 75.1 596.4 63.2 596.7 78.0 596.9 59.2 597.1 75.4 597.3 64.5 597.5 76.3 597.7 60.0 597.9 78.0 598.1 61.6 598.3 79.1 598.5 62.6 598.7 76.0 598.7 71.7 599.3 71.5 600.0 71.3 600.6 71.5 601.2 71.7 601.9 71.1 602.5 71.3 603.1 71.1 603.8 71.4 604.4 71.1 605.0 71.3 605.7 71.8 606.3 71.8 606.9 71.0 607.6 71.3 608.2 71.7 608.8 71.7 609.5 71.2 610.1 71.5 610.8 71.6 611.4 71.3 612.0 71.1 612.7 71.7 613.3 71.6 613.9 71.5 614.6 71.7 615.2 71.8 615.8 71.1 616.5 71.0 617.1 71.5 617.7 71.1 618.4 71.7 619.0 71.6 619.6 71.4 620.3 71.7 620.9 71.8 621.0 70.5 621.3 86.5 621.6 55.3 622.1 51.6 622.4 60.0 622.7 80.0 623.1 90.1 623.5 75.0 624.0 70.5 624.0 71.6 624.6 71.2 625.3 71.4 625.9 71.0 626.5 71.5 627.2 71.2 627.8 71.1 628.4 71.2 629.1 71.2 629.7 71.7 630.4 71.0 631.0 71.1 631.6 71.2 632.3 71.7 632.9 71.0 633.5 71.8 634.2 71.7 634.8 71.3 635.4 71.5 636.1 71.6 636.7 71.7 636.8 70.5 637.1 57.0 637.5 81.6 638.0 64.0 638.5 75.0 639.2 52.0 640.0 46.7 640.6 70.0 641.5 93.8 642.2 80.0 642.8 62.0 643.6 50.0 644.5 47.3 645.0 76.7 645.4 70.5 645.5 71.2 646.1 71.7 646.7 71.6 647.4 71.0 648.0 71.0 648.6 71.5 649.2 71.7 649.9 71.6 650.5 71.7 651.1 71.0 651.7 71.8 652.4 71.3 653.0 71.3 653.6 71.7 654.2 71.5 654.9 71.3 655.5 71.0 656.1 71.8 656.7 71.5 657.4 71.0 658.0 71.4 658.6 71.6 659.2 71.4 659.9 71.5 660.5 71.1 661.1 71.8 661.7 71.4 662.3 71.0 663.0 71.2 663.6 71.7 664.2 71.6 664.8 71.5 665.5 71.2 666.1 71.6 666.7 71.7 667.3 71.1 668.0 71.0 668.6 71.6 669.2 71.5 669.8 71.6 670.5 71.1 671.1 71.8 671.7 71.4 672.3 71.6 673.0 71.1 673.6 71.3 674.2 71.3 674.2 62.5 674.4 75.8 674.6 62.8 674.8 78.2 675.0 64.6 675.2 75.6 675.4 62.5 675.7 74.8 675.9 62.7 676.1 75.3 676.3 62.2 676.5 74.7 676.7 61.6 676.9 76.4 677.1 63.7 677.3 76.6 677.5 64.4 677.7 76.6 677.9 62.3 678.1 76.0 678.3 62.0 678.5 75.8 678.8 61.1 679.0 75.3 679.2 61.9 679.4 75.1 679.6 61.0 679.8 75.8 680.0 61.8 680.2 74.7 680.4 62.1 680.6 75.1 680.8 64.2 681.0 75.2 681.2 62.1 681.5 75.2 681.7 62.2 681.9 76.4 682.1 61.0 682.3 76.5 682.5 64.3 682.7 78.4 682.9 63.7 683.1 74.7 683.3 64.5 683.5 74.5 683.7 62.4 683.9 75.1 684.1 63.7 684.3 76.3 684.6 62.5 684.8 75.7 685.0 61.1 685.2 75.0 685.4 63.8 685.6 75.1 685.8 62.6 685.8 71.4 686.4 71.5 687.0 71.0 687.7 71.7 688.3 71.8 688.9 71.0 689.5 71.1 690.2 71.4 690.8 71.7 691.4 71.1 692.0 71.4 692.7 71.4 693.3 71.6 693.9 71.4 694.5 71.3 695.2 71.3 695.8 71.6 696.4 71.3 697.0 71.8 697.6 71.5 698.3 71.2 698.9 71.4 699.5 71.0 700.1 71.7 700.8 71.7 701.4 71.2 702.0 71.2 702.6 71.3 703.3 71.3 703.9 71.6 704.5 71.5 705.1 71.7 705.8 71.4 706.4 71.6 707.0 71.6 707.2 59.0 707.8 70.0 708.4 82.2 709.0 70.9 709.0 71.1 709.7 71.1 710.3 71.2 711.0 71.3 711.7 71.0 712.3 71.1 713.0 71.5 713.7 71.3 714.3 71.4 715.0 71.4 715.6 71.4 716.3 71.1 717.0 71.8 717.6 71.8 718.3 71.2 719.0 71.3 719.6 71.5 720.3 71.6 720.5 62.0 720.8 59.0 721.6 65.0 722.5 78.0 723.4 82.8 724.5 70.9 724.5 71.5 725.1 71.7 725.7 71.6 726.4 71.1 727.0 71.2 727.6 71.4 728.2 71.2 728.8 71.3 729.5 71.2 730.1 71.8 730.7 71.2 731.3 71.5 732.0 71.3 732.6 71.1 733.2 71.5 733.8 71.0 734.4 71.6 735.1 71.3 735.7 71.6 736.3 71.0 736.9 71.2 737.5 71.7 738.2 71.1 738.8 71.6 739.4 71.3 740.0 71.6 740.6 71.1 741.3 71.8 741.9 71.3 742.5 71.1 743.1 71.8 743.7 71.5 744.4 71.3 745.0 71.8 745.6 71.1 746.2 71.4 746.9 71.5 747.5 71.5 748.1 71.8 748.7 71.1 749.3 71.6 750.0 71.1 750.6 71.2 751.2 71.7 751.2 42.4 751.4 99.7 751.6 42.3 751.8 96.9 752.0 37.3 752.2 97.8 752.4 38.8 752.6 98.7 752.8 37.8 753.0 97.8 753.2 40.9 753.4 100.2 753.6 40.5 753.9 96.6 754.1 38.3 754.3 96.3 754.5 37.7 754.7 100.7 754.9 40.6 755.1 97.8 755.3 40.5 755.5 97.4 755.7 39.8 755.9 99.4 756.1 38.3 756.3 106.3 756.5 38.1 756.7 96.8 756.9 36.9 757.1 97.5 757.3 39.6 757.5 99.7 757.7 39.8 757.9 100.2 758.1 36.8 758.3 98.2 758.5 38.8 758.7 97.2 759.0 38.2 759.2 103.6 759.4 37.8 759.6 100.6 759.8 36.8 760.0 96.8 760.2 37.7 760.4 99.9 760.6 36.9 760.8 97.9 761.0 36.3 761.2 96.8 761.4 33.0 761.6 110.0 761.8 37.4 762.0 98.8 762.2 36.4 762.4 98.6 762.6 35.6 762.8 97.1 763.0 38.4 763.2 100.9 763.4 38.4 763.6 100.3 763.8 38.1 764.0 99.3 764.3 36.1 764.5 97.6 764.7 36.5 764.9 96.9 765.1 40.4 765.3 100.8 765.5 35.8 765.7 98.1 765.9 40.1 766.1 101.3 766.3 36.9 766.5 100.5 766.7 39.1 766.7 71.6 767.3 71.8 767.9 71.2 768.5 71.1 769.1 71.8 769.8 71.1 770.4 71.0 771.0 71.1 771.6 71.5 772.2 71.3 772.8 71.7 773.4 71.7 774.0 71.5 774.6 71.3 775.2 71.6 775.9 71.8 776.5 71.4 777.1 71.8 777.7 71.6 778.3 71.7 778.9 71.2 779.5 71.4 780.1 71.4 780.7 71.2 781.4 71.8 782.0 71.5 782.6 71.7 783.2 71.4 783.8 71.6 784.4 71.4 785.0 71.8 785.6 71.6 786.2 71.4 786.9 71.6 787.5 71.7 788.1 71.7 788.7 71.5 789.3 71.5 789.9 71.7 790.5 71.8 791.1 71.3 791.7 71.7 792.3 71.7 793.0 71.7 793.6 71.8 794.2 71.4 794.8 71.6 795.4 71.1 796.0 71.5 796.6 71.1 797.2 71.2 797.8 71.1 798.5 71.3 799.1 71.7 799.7 71.3 800.3 71.8 800.9 71.3 801.5 71.0 802.1 71.7 802.7 71.5 803.3 71.2 804.0 71.3 804.6 71.5 805.2 71.6 805.8 71.4 806.4 71.3 807.0 71.8 807.6 71.8 808.2 71.6 808.8 71.0 809.4 71.7 810.1 71.5 810.7 71.0 811.3 71.5 811.9 71.7 812.5 71.7 812.5 70.5 M830.5 70.5 830.5 71.4 831.1 71.8 831.7 71.7 832.4 71.4 833.0 71.4 833.6 71.3 834.2 71.8 834.8 71.6 835.4 71.8 836.1 71.3 836.7 71.8 837.3 71.2 837.9 71.6 838.5 71.6 839.1 71.2 839.8 71.0 840.4 71.7 841.0 71.3 841.6 71.0 842.2 71.3 842.9 71.1 843.5 71.0 844.1 71.6 844.7 71.8 845.3 71.6 845.9 71.2 846.6 71.7 847.2 71.5 847.8 71.2 848.4 71.1 849.0 71.8 849.6 71.7 850.3 71.2 850.9 71.2 851.5 71.7 852.1 71.0 852.7 71.6 853.4 71.5 854.0 71.4 854.6 71.6 855.2 71.3 855.8 71.7 856.4 71.1 857.1 71.8 857.7 71.6 858.3 71.2 858.9 71.1 859.5 71.3 860.2 71.8 860.8 71.0 861.4 71.4 862.0 71.4 862.6 71.8 863.2 71.7 863.9 71.6 864.5 71.2 865.1 71.2 865.7 71.3 866.3 71.8 866.9 71.8 867.6 71.3 868.2 71.8 868.8 71.2 868.8 57.2 869.0 76.5 869.2 65.0 869.4 79.2 869.6 60.9 869.8 81.1 870.0 63.9 870.2 77.9 870.4 60.3 870.6 76.5 870.8 63.6 871.0 77.2 871.2 64.5 871.4 78.0 871.7 64.8 871.9 79.5 872.1 64.0 872.3 79.8 872.5 65.3 872.7 78.1 872.9 64.8 873.1 80.7 873.3 64.1 873.5 76.1 873.7 61.9 873.9 77.6 874.1 60.6 874.3 78.5 874.5 65.0 874.7 77.3 874.9 62.3 875.1 76.3 875.3 65.2 875.5 77.5 875.7 65.0 875.9 79.8 876.1 61.5 876.3 77.7 876.5 65.6 876.8 80.3 877.0 63.7 877.2 79.7 877.4 64.1 877.6 77.2 877.8 63.0 878.0 76.3 878.2 61.8 878.4 76.6 878.6 65.6 878.8 79.5 879.0 61.4 879.2 80.0 879.4 63.8 879.4 71.2 880.0 71.4 880.7 71.2 881.3 71.7 881.9 71.7 882.5 71.2 883.2 71.0 883.8 71.5 884.4 71.6 885.1 71.1 885.7 71.6 886.3 71.2 886.9 71.7 887.6 71.7 888.2 71.0 888.8 71.0 889.5 71.5 890.1 71.8 890.7 71.0 891.3 71.1 892.0 71.6 892.6 71.2 892.8 70.5 893.1 48.7 893.5 60.0 893.9 91.5 894.3 80.0 894.7 70.9 894.7 71.1 895.4 71.5 896.1 71.1 896.7 71.3 897.4 71.6 898.1 71.4 898.8 71.6 899.5 71.8 900.2 71.5 900.8 71.8 901.5 71.0 902.2 71.0 902.3 70.5 902.7 45.6 903.1 58.0 903.5 85.0 903.9 92.5 904.4 75.0 904.9 70.9 904.9 71.6 905.5 71.6 906.1 71.1 906.7 71.2 907.3 71.5 907.9 71.3 908.5 71.8 909.2 71.6 909.8 71.5 910.4 71.2 911.0 71.4 911.6 71.5 912.2 71.1 912.8 71.5 913.4 71.1 914.0 71.7 914.6 71.5 915.2 71.2 915.8 71.0 916.4 71.6 917.0 71.6 917.7 71.6 918.3 71.0 918.9 71.1 919.5 71.7 920.1 71.3 920.7 71.6 921.3 71.1 921.9 71.7 922.5 71.7 923.1 71.0 923.7 71.7 924.3 71.4 924.9 71.5 925.6 71.1 926.2 71.2 926.8 71.4 927.4 71.4 928.0 71.4 928.6 71.2 929.2 71.6 929.8 71.1 930.4 71.8 931.0 71.2 931.6 71.4 932.2 71.4 932.8 71.4 933.5 71.6 934.1 71.6 934.7 71.2 935.3 71.5 935.9 71.2 936.5 71.1 937.1 71.8 937.7 71.7 938.3 71.5 938.9 71.2 939.5 71.7 940.1 71.4 940.7 71.3 941.3 71.7 942.0 71.7 942.6 71.7 943.2 71.6 943.8 71.7 944.4 71.1 945.0 71.2 945.6 71.1 946.2 71.7 946.8 71.8 947.4 71.1 948.0 71.3 948.6 71.2 949.2 71.6 949.9 71.1 950.5 71.8 951.1 71.4 951.7 71.1 952.3 71.0 952.9 71.1 953.5 71.1 954.1 71.6 954.7 71.4 955.3 71.5 955.9 71.0 956.5 71.7 957.1 71.2 957.8 71.5 958.4 71.4 959.0 71.1 959.6 71.1 960.2 71.0 960.8 71.2 961.4 71.0 962.0 71.3 962.6 71.2 963.2 71.4 963.8 71.4 964.4 71.2 965.0 71.2 965.6 71.5 966.3 71.5 966.9 71.4 967.5 71.1 968.1 71.6 968.7 71.8 969.3 71.0 969.9 71.6" fill="none" stroke="#0000ff" stroke-width="0.8" stroke-linejoin="round"/><path d="M586.4 60.1 586.8 81.2 587.1 62.0 587.5 76.6 587.8 60.4 588.2 83.1 588.5 56.9 588.9 83.6 589.2 61.2 589.6 80.5 589.9 58.6 590.3 83.6 590.6 62.6 591.0 82.9 591.3 59.0 591.7 81.6 592.0 56.4 592.4 82.0 592.7 55.9 593.1 85.7 593.4 60.7 593.8 86.2 594.1 60.7 594.5 85.2 594.8 59.1 595.2 87.6 595.5 57.6 595.9 88.9 596.2 56.9 596.6 81.4 596.9 55.6 597.3 82.0 597.6 56.5 598.0 80.1 598.3 59.7 598.7 79.1" fill="none" stroke="#0000ff" stroke-width="0.5" stroke-linejoin="round"/><path d="M674.2 82.2 674.6 61.8 674.9 80.5 675.3 57.0 675.6 77.0 676.0 60.9 676.3 79.0 676.7 61.2 677.0 81.7 677.4 59.9 677.7 78.5 678.1 58.9 678.4 80.7 678.8 60.3 679.1 77.8 679.5 56.7 679.8 80.2 680.2 57.6 680.5 81.5 680.9 63.2 681.2 81.6 681.6 62.5 681.9 77.9 682.3 60.6 682.6 81.1 683.0 63.0 683.3 81.1 683.7 60.5 684.0 77.1 684.4 56.8 684.7 76.8 685.1 61.3 685.4 77.6 685.8 56.3" fill="none" stroke="#0000ff" stroke-width="0.5" stroke-linejoin="round"/><path d="M751.2 35.7 751.5 105.1 751.9 38.9 752.2 103.4 752.6 42.4 752.9 109.1 753.3 39.0 753.6 102.2 754.0 34.4 754.3 101.5 754.6 37.2 755.0 99.2 755.3 42.9 755.7 106.6 756.0 34.2 756.4 102.6 756.7 33.7 757.1 111.7 757.4 45.5 757.7 99.6 758.1 33.4 758.4 100.8 758.8 33.0 759.1 110.9 759.5 34.5 759.8 107.5 760.2 38.1 760.5 103.1 760.8 38.9 761.2 102.6 761.5 43.9 761.9 106.9 762.2 37.5 762.6 111.4 762.9 43.2 763.3 114.2 763.6 37.3 763.9 111.5 764.3 36.5 764.6 104.3 765.0 37.3 765.3 112.4 765.7 34.6 766.0 114.7 766.4 45.3 766.7 98.3" fill="none" stroke="#0000ff" stroke-width="0.5" stroke-linejoin="round"/><path d="M755.1 45 L755.3 19.8 L755.6 45 M765.3 45 L765.5 19.8 L765.8 45 M757.8 45 L758 30 L758.3 45 M761.8 45 L762 31.7 L762.3 45 M755.6 50 L755.8 26.5 L756.1 50" fill="none" stroke="#0000ff" stroke-width="0.5" stroke-linejoin="round"/><path d="M812.5 77.5 812.8 62.5 813.0 84.1 813.3 59.4 813.5 75.6 813.8 58.1 814.0 77.5 814.3 62.5 814.5 84.9 814.8 60.3 815.0 83.6 815.3 55.5 815.5 77.2 815.8 58.4 816.0 85.8 816.3 62.3 816.6 83.6 816.8 60.4 817.1 76.2 817.3 63.7 817.6 78.5 817.8 61.3 818.1 79.5 818.3 61.0 818.6 81.1 818.8 57.6 819.1 79.9 819.3 58.9 819.6 83.6 819.9 63.2 820.1 78.5 820.4 55.8 820.6 79.8 820.9 55.9 821.1 84.7 821.4 63.0 821.6 79.4 821.9 59.9 822.1 80.0 822.4 58.4 822.6 87.3 822.9 60.6 823.1 80.5 823.4 60.3 823.7 85.6 823.9 63.4 824.2 78.2 824.4 60.1 824.7 78.0 824.9 62.5 825.2 79.2 825.4 63.2 825.7 82.9 825.9 62.6 826.2 77.6 826.4 65.4 826.7 81.1 827.0 54.9 827.2 80.9 827.5 59.2 827.7 83.6 828.0 61.2 828.2 86.8 828.5 65.9 828.7 83.2 829.0 55.0 829.2 82.0 829.5 56.1 829.7 75.3 830.0 55.8 830.2 82.7 830.5 60.1" fill="none" stroke="#0000ff" stroke-width="0.5" stroke-linejoin="round"/><path d="M868.8 55.6 869.2 82.8 869.5 58.6 869.9 79.2 870.2 59.4 870.6 85.5 870.9 55.3 871.3 80.9 871.6 54.4 872.0 79.4 872.3 59.5 872.7 81.1 873.0 61.0 873.4 80.4 873.7 57.5 874.1 87.9 874.5 56.4 874.8 91.1 875.2 54.4 875.5 88.4 875.9 56.1 876.2 91.6 876.6 62.0 876.9 84.6 877.3 62.1 877.6 86.8 878.0 60.5 878.3 87.7 878.7 54.9 879.0 81.4 879.4 59.7" fill="none" stroke="#0000ff" stroke-width="0.5" stroke-linejoin="round"/><path d="M892.8 74.0 893.0 62.0 893.2 79.5 893.4 58.1 893.6 80.2 893.8 57.1 893.9 90.1 894.1 66.1 894.3 80.6 894.5 67.7 894.7 74.3" fill="none" stroke="#0000ff" stroke-width="0.5" stroke-linejoin="round"/><path d="M902.3 75.6 902.5 58.8 902.7 79.3 902.9 57.6 903.0 84.6 903.2 54.4 903.4 86.9 903.6 64.3 903.8 88.0 904.0 64.1 904.2 86.1 904.3 61.8 904.5 76.6 904.7 68.6 904.9 73.4" fill="none" stroke="#0000ff" stroke-width="0.5" stroke-linejoin="round"/><path d="M571.50 70.50H586.65M598.81 70.50H620.81M623.61 70.50H636.92M645.62 70.50H674.03M685.93 70.50H706.73M709.53 70.50H719.84M724.64 70.50H751.25M767.05 70.50H771.95M794.66 70.50H812.76M830.87 70.50H868.87M879.28 70.50H892.88M894.78 70.50H902.08M905.38 70.50H936.59M953.60 70.50H969.90" fill="none" stroke="#ff0000" stroke-opacity="0.57" stroke-width="1"/><path d="M586.65 71.00V19.45H598.81V71.00M620.81 71.00V19.45H623.61V71.00M636.92 71.00V19.45H645.62V71.00M674.03 71.00V19.45H685.93V71.00M706.73 71.00V19.45H709.53V71.00M719.84 71.00V19.45H724.64V71.00M751.25 71.00V19.45H767.05V71.00M771.95 71.00V19.45H794.66V71.00M812.76 71.00V19.45H830.87V71.00M868.87 71.00V19.45H879.28V71.00M892.88 71.00V19.45H894.78V71.00M902.08 71.00V19.45H905.38V71.00M936.59 71.00V19.45H953.60V71.00" fill="none" stroke="#ff0000" stroke-opacity="0.57" stroke-width="1"/></g><path d="M571.00 14.50H970.40M571.00 126.50H970.40M571.50 14.50V126.50M969.90 14.50V126.50" stroke="#6e6e6e" stroke-width="1.1" fill="none"/><path d="M571.50 126.50V122.50M571.50 14.50V18.50M621.30 126.50V122.50M621.30 14.50V18.50M671.10 126.50V122.50M671.10 14.50V18.50M720.90 126.50V122.50M720.90 14.50V18.50M770.70 126.50V122.50M770.70 14.50V18.50M820.50 126.50V122.50M820.50 14.50V18.50M870.30 126.50V122.50M870.30 14.50V18.50M920.10 126.50V122.50M920.10 14.50V18.50M969.90 126.50V122.50M969.90 14.50V18.50M571.50 126.50H575.50M969.90 126.50H965.90M571.50 98.50H575.50M969.90 98.50H965.90M571.50 70.50H575.50M969.90 70.50H965.90M571.50 42.50H575.50M969.90 42.50H965.90M571.50 14.50H575.50M969.90 14.50H965.90" stroke="#6e6e6e" stroke-width="1" fill="none"/><text x="571.50" y="143.00" text-anchor="middle">0</text><text x="621.30" y="143.00" text-anchor="middle">20</text><text x="671.10" y="143.00" text-anchor="middle">40</text><text x="720.90" y="143.00" text-anchor="middle">60</text><text x="770.70" y="143.00" text-anchor="middle">80</text><text x="820.50" y="143.00" text-anchor="middle"> 00</text><path transform="translate(808.82 143)" d="M4.6 0H3.25V-7.15H1.15V-8.0C2.3 -8.1 3.0 -8.5 3.3 -9.9H4.6Z"/><text x="870.30" y="143.00" text-anchor="middle"> 20</text><path transform="translate(858.62 143)" d="M4.6 0H3.25V-7.15H1.15V-8.0C2.3 -8.1 3.0 -8.5 3.3 -9.9H4.6Z"/><text x="920.10" y="143.00" text-anchor="middle"> 40</text><path transform="translate(908.42 143)" d="M4.6 0H3.25V-7.15H1.15V-8.0C2.3 -8.1 3.0 -8.5 3.3 -9.9H4.6Z"/><text x="969.90" y="143.00" text-anchor="middle"> 60</text><path transform="translate(958.22 143)" d="M4.6 0H3.25V-7.15H1.15V-8.0C2.3 -8.1 3.0 -8.5 3.3 -9.9H4.6Z"/><text x="568.00" y="131.70" text-anchor="end"><tspan dy=" .3">−</tspan><tspan dy="- .3" dx="0.4">400</tspan></text><text x="568.00" y="103.70" text-anchor="end"><tspan dy=" .3">−</tspan><tspan dy="- .3" dx="0.4">200</tspan></text><text x="568.00" y="75.70" text-anchor="end">0</text><text x="568.00" y="47.70" text-anchor="end">200</text><text x="568.00" y="19.70" text-anchor="end">400</text><text x="770.50" y="158.50" text-anchor="middle">Time (s)</text><text transform="translate(511.50 71.35) rotate(-90)" text-anchor="middle">Angular</text><text transform="translate(527.70 69.20) rotate(-90)" text-anchor="middle">Rate (deg/s)</text><rect x="857.20" y="108.70" width="134.8" height="39.5" fill="#fff" stroke="#6e6e6e" stroke-width="1.1"/><path d="M863.70 119.70H898.70" stroke="#0000ff" stroke-opacity="0.6" stroke-width="1"/><path d="M863.70 137.50H898.70" stroke="#ff0000" stroke-opacity="0.6" stroke-width="1"/><text x="903.00" y="124.30">Gx</text><text x="903.00" y="142.30">Actual Marker</text><defs><clipPath id="c4"><rect x="571.50" y="178.10" width="398.40" height="112.35"/></clipPath></defs><g clip-path="url(#c4)"><path d="M571.5 234.5 572.1 234.6 572.8 234.1 573.4 233.8 574.0 234.4 574.6 233.9 575.2 234.5 575.9 234.1 576.5 234.3 577.1 234.8 577.8 234.6 578.4 234.6 579.0 234.4 579.6 234.7 580.2 233.8 580.9 234.7 581.5 234.2 582.1 234.0 582.8 234.3 583.4 234.7 584.0 234.1 584.6 234.7 585.2 234.3 585.9 234.8 586.5 234.6 586.5 243.0 586.7 222.6 586.9 243.5 587.1 226.2 587.3 240.7 587.5 226.5 587.7 241.7 587.9 225.1 588.1 240.3 588.3 225.5 588.5 249.8 588.8 221.5 589.0 244.6 589.2 225.6 589.4 242.1 589.6 221.9 589.8 243.8 590.0 221.3 590.2 240.9 590.4 225.3 590.6 243.6 590.8 224.8 591.0 242.0 591.2 225.1 591.4 240.9 591.6 225.8 591.8 241.4 592.0 222.2 592.2 247.5 592.4 224.7 592.6 240.9 592.9 221.3 593.1 243.0 593.3 223.4 593.5 242.5 593.7 224.2 593.9 241.0 594.1 223.0 594.3 240.7 594.5 224.8 594.7 243.9 594.9 220.7 595.1 243.5 595.3 223.0 595.5 241.6 595.7 223.8 595.9 244.9 596.1 224.1 596.3 248.9 596.5 223.6 596.8 241.7 597.0 225.9 597.2 242.5 597.4 227.6 597.6 242.3 597.8 221.6 598.0 243.6 598.2 226.5 598.4 240.8 598.6 224.9 598.8 240.7 598.8 234.4 599.4 233.9 600.0 234.1 600.7 234.6 601.3 234.2 601.9 234.6 602.5 234.3 603.2 234.3 603.8 234.3 604.4 234.2 605.0 234.3 605.7 234.1 606.3 234.6 606.9 234.0 607.5 234.5 608.1 234.2 608.8 234.3 609.4 233.9 610.0 234.7 610.6 234.1 611.3 234.8 611.9 234.0 612.5 234.1 613.1 234.4 613.7 234.4 614.4 234.7 615.0 233.9 615.6 234.2 616.2 234.3 616.9 234.3 617.5 234.4 618.1 234.2 618.7 234.8 619.4 234.0 620.0 234.1 620.6 234.3 620.8 234.3 621.2 222.0 621.5 218.7 621.9 236.0 622.3 247.8 622.7 236.0 623.1 226.0 623.4 234.3 623.5 234.8 624.1 234.0 624.8 234.0 625.4 234.3 626.0 234.3 626.6 234.3 627.3 234.3 627.9 234.6 628.5 234.6 629.2 234.7 629.8 234.2 630.4 234.5 631.0 234.4 631.7 234.0 632.3 234.3 632.9 234.2 633.6 234.8 634.2 234.4 634.8 234.6 635.4 234.3 636.1 234.6 636.7 234.7 636.8 234.3 637.5 211.3 638.5 257.6 640.0 209.3 642.0 259.0 644.5 208.0 645.5 240.4 645.9 234.3 646.0 234.0 646.6 234.4 647.2 234.4 647.9 234.3 648.5 234.7 649.1 234.2 649.7 234.7 650.4 234.6 651.0 234.5 651.6 234.0 652.2 234.1 652.9 234.2 653.5 234.8 654.1 234.7 654.7 233.8 655.4 234.7 656.0 234.4 656.6 234.7 657.2 234.1 657.9 234.0 658.5 234.3 659.1 234.7 659.7 234.3 660.4 234.3 661.0 233.9 661.6 234.2 662.2 234.4 662.9 234.3 663.5 234.4 664.1 234.6 664.7 234.6 665.4 233.9 666.0 234.1 666.6 233.9 667.2 234.5 667.9 234.4 668.5 234.2 669.1 234.7 669.7 234.8 670.4 234.3 671.0 234.5 671.6 234.6 672.2 234.5 672.9 234.1 673.5 234.8 674.1 234.0 674.1 225.4 674.3 242.9 674.5 222.5 674.7 242.8 674.9 227.7 675.1 243.9 675.3 223.8 675.5 244.7 675.7 223.8 675.9 242.7 676.1 226.0 676.3 240.5 676.5 225.0 676.7 242.6 676.9 225.4 677.2 246.2 677.4 225.9 677.6 245.8 677.8 223.8 678.0 240.4 678.2 224.6 678.4 245.9 678.6 221.7 678.8 243.0 679.0 221.7 679.2 245.3 679.4 223.8 679.6 243.8 679.8 226.8 680.0 243.3 680.2 220.0 680.4 241.3 680.6 226.5 680.8 242.7 681.0 225.7 681.2 244.9 681.4 226.5 681.6 244.5 681.8 224.1 682.0 244.0 682.2 226.7 682.4 241.9 682.6 223.7 682.8 240.4 683.0 222.4 683.3 243.9 683.5 224.9 683.7 245.5 683.9 227.6 684.1 244.1 684.3 223.8 684.5 242.0 684.7 222.4 684.9 244.6 685.1 226.3 685.3 241.8 685.5 221.3 685.7 243.8 685.9 223.7 686.1 243.7 686.1 234.4 686.7 234.4 687.4 234.4 688.0 234.4 688.6 234.6 689.3 234.5 689.9 234.6 690.5 234.8 691.2 234.7 691.8 234.3 692.4 234.2 693.1 234.7 693.7 234.3 694.3 234.4 695.0 234.2 695.6 234.6 696.2 234.3 696.9 233.9 697.5 233.9 698.1 234.1 698.8 234.8 699.4 234.1 700.0 234.1 700.7 234.7 701.3 234.2 701.9 234.1 702.6 234.4 703.2 234.2 703.8 233.8 704.5 233.9 705.1 234.3 705.7 234.4 706.4 234.4 707.0 234.5 707.2 229.8 707.9 234.3 708.5 238.8 709.2 234.3 709.2 234.4 709.9 233.9 710.5 234.0 711.2 234.6 711.8 234.1 712.5 234.7 713.1 234.4 713.8 234.2 714.4 234.1 715.1 234.3 715.7 233.9 716.4 233.9 717.0 234.3 717.7 234.2 718.3 234.0 719.0 234.1 719.6 233.9 720.3 234.5 720.6 229.3 721.6 234.3 722.6 239.3 723.6 234.3 723.6 234.4 724.2 234.6 724.8 234.5 725.4 234.2 726.1 234.7 726.7 234.6 727.3 234.3 727.9 234.4 728.5 234.5 729.1 234.6 729.7 234.0 730.3 234.4 731.0 234.0 731.6 234.8 732.2 234.7 732.8 234.5 733.4 233.8 734.0 234.6 734.6 234.0 735.3 234.2 735.9 234.2 736.5 233.9 737.1 234.4 737.7 234.6 738.3 233.9 738.9 234.8 739.5 234.7 740.2 234.5 740.8 233.9 741.4 234.4 742.0 234.2 742.6 234.3 743.2 234.7 743.8 234.4 744.5 233.9 745.1 234.0 745.7 234.1 746.3 233.9 746.9 234.5 747.5 234.0 748.1 234.5 748.7 234.7 749.4 233.9 750.0 234.4 750.6 234.3 751.2 234.8 751.2 193.5 751.4 276.6 751.6 196.3 751.8 264.8 752.0 192.7 752.2 266.3 752.4 193.2 752.6 265.1 752.8 192.9 753.0 266.9 753.2 194.5 753.4 264.1 753.6 194.7 753.9 266.8 754.1 195.1 754.3 266.5 754.5 192.6 754.7 262.6 754.9 197.8 755.1 264.2 755.3 194.7 755.5 267.2 755.7 190.0 755.9 266.8 756.1 185.8 756.3 267.9 756.5 195.9 756.7 266.2 756.9 189.4 757.1 265.4 757.3 196.6 757.5 262.8 757.7 197.0 757.9 264.5 758.1 198.7 758.3 263.4 758.5 198.2 758.7 262.4 759.0 197.8 759.2 266.6 759.4 198.5 759.6 263.6 759.8 195.3 760.0 273.7 760.2 199.7 760.4 266.2 760.6 196.0 760.8 266.0 761.0 196.3 761.2 264.4 761.4 196.5 761.6 262.4 761.8 199.4 762.0 266.9 762.2 197.8 762.4 264.0 762.6 198.4 762.8 265.5 763.0 199.2 763.2 265.1 763.4 196.3 763.6 262.6 763.8 200.4 764.0 266.0 764.3 199.8 764.5 266.7 764.7 199.3 764.9 264.4 765.1 199.9 765.3 262.4 765.5 199.0 765.7 267.0 765.9 201.3 766.1 262.6 766.3 196.4 766.5 262.4 766.7 199.5 766.7 234.0 767.3 234.5 767.9 234.6 768.5 234.5 769.1 234.4 769.8 233.9 770.4 234.1 771.0 234.0 771.6 234.7 772.2 234.3 772.8 234.5 773.4 234.6 774.0 233.8 774.6 234.6 775.2 234.4 775.9 234.3 776.5 234.6 777.1 234.1 777.7 234.0 778.3 234.1 778.9 234.1 779.5 234.5 780.1 234.5 780.7 233.9 781.4 234.1 782.0 234.8 782.6 234.3 783.2 234.2 783.8 234.2 784.4 234.8 785.0 233.9 785.6 234.6 786.2 234.1 786.9 234.7 787.5 234.2 788.1 234.3 788.7 234.4 789.3 234.3 789.9 234.0 790.5 234.5 791.1 234.4 791.7 233.8 792.3 234.6 793.0 234.0 793.6 234.2 794.2 234.4 794.8 234.5 795.4 234.3 796.0 234.6 796.6 234.5 797.2 234.1 797.8 234.7 798.5 233.8 799.1 234.6 799.7 234.5 800.3 234.5 800.9 234.3 801.5 233.9 802.1 234.7 802.7 234.5 803.3 234.5 804.0 234.3 804.6 234.2 805.2 234.5 805.8 233.8 806.4 234.0 807.0 234.5 807.6 234.5 808.2 234.5 808.8 234.6 809.4 234.4 810.1 233.8 810.7 234.8 811.3 234.5 811.9 233.9 812.5 234.7 812.5 234.3 M830.7 234.3 830.7 234.7 831.3 234.0 831.9 233.9 832.5 234.6 833.1 234.1 833.8 233.9 834.4 234.5 835.0 234.7 835.6 233.9 836.2 233.9 836.8 234.7 837.4 234.6 838.0 233.9 838.6 234.1 839.3 234.5 839.9 234.2 840.5 234.1 841.1 233.8 841.7 234.5 842.3 233.9 842.9 234.0 843.5 233.8 844.1 233.9 844.8 234.0 845.4 234.7 846.0 234.2 846.6 234.4 847.2 233.9 847.8 233.8 848.4 234.0 849.0 234.0 849.7 233.8 850.3 234.4 850.9 234.1 851.5 234.4 852.1 234.5 852.7 233.9 853.3 234.7 853.9 234.3 854.5 234.5 855.2 234.3 855.8 234.3 856.4 234.0 857.0 233.8 857.6 234.4 858.2 234.0 858.8 233.8 859.4 234.5 860.0 234.4 860.7 234.4 861.3 234.7 861.9 234.8 862.5 234.3 863.1 234.0 863.7 234.0 864.3 234.3 864.9 234.4 865.5 233.9 866.2 234.4 866.8 234.2 867.4 234.5 868.0 234.7 868.6 233.9 868.6 225.8 868.8 244.3 869.0 226.3 869.2 243.3 869.4 227.4 869.6 241.2 869.8 225.6 870.0 244.1 870.2 228.3 870.4 243.3 870.6 225.7 870.8 242.4 871.0 223.7 871.2 245.3 871.5 222.9 871.7 240.3 871.9 222.6 872.1 245.0 872.3 224.5 872.5 240.8 872.7 227.0 872.9 241.2 873.1 223.0 873.3 244.3 873.5 228.1 873.7 241.3 873.9 224.2 874.1 242.3 874.3 223.9 874.5 241.0 874.7 224.5 874.9 244.2 875.1 224.8 875.3 243.6 875.5 224.8 875.7 241.5 875.9 228.0 876.1 243.3 876.3 224.1 876.5 243.3 876.7 224.1 877.0 243.1 877.2 226.6 877.4 241.3 877.6 223.9 877.8 243.0 878.0 228.0 878.2 245.6 878.4 225.7 878.6 242.8 878.8 227.9 879.0 245.2 879.2 224.3 879.4 243.8 879.6 228.3 879.6 234.1 880.3 234.6 880.9 233.9 881.6 234.3 882.2 234.5 882.9 234.7 883.5 234.2 884.2 233.8 884.8 234.2 885.5 234.2 886.2 234.1 886.8 234.5 887.5 234.2 888.1 234.6 888.8 234.3 889.4 233.9 890.1 234.5 890.7 234.3 891.4 234.0 892.0 234.4 892.7 234.5 892.8 234.3 893.2 221.0 893.7 245.8 894.1 230.0 894.5 234.3 894.5 234.0 895.2 234.4 895.8 233.9 896.5 234.3 897.2 234.2 897.9 234.0 898.5 234.0 899.2 234.2 899.9 234.5 900.6 234.8 901.2 234.2 901.9 234.0 902.0 234.3 902.6 212.8 903.1 230.0 903.7 261.2 904.2 240.0 904.6 234.3 904.6 234.0 905.2 234.6 905.8 234.0 906.4 233.8 907.1 234.1 907.7 234.4 908.3 234.0 908.9 234.7 909.5 234.3 910.1 234.4 910.7 233.9 911.3 234.2 912.0 234.7 912.6 234.0 913.2 233.9 913.8 234.2 914.4 234.0 915.0 234.6 915.6 234.0 916.2 234.3 916.9 233.8 917.5 233.9 918.1 234.3 918.7 233.9 919.3 234.1 919.9 234.5 920.5 234.0 921.2 234.7 921.8 234.6 922.4 234.7 923.0 234.1 923.6 234.1 924.2 234.4 924.8 233.9 925.4 234.6 926.1 234.6 926.7 233.9 927.3 234.3 927.9 234.4 928.5 234.1 929.1 234.1 929.7 234.4 930.3 233.9 931.0 234.1 931.6 234.1 932.2 234.3 932.8 234.7 933.4 234.5 934.0 234.0 934.6 234.1 935.2 233.9 935.9 234.4 936.5 234.7 937.1 234.7 937.7 234.6 939.3 216.3 939.4 216.5 939.9 216.6 940.5 216.8 941.0 216.0 941.6 216.8 942.1 216.7 942.7 216.5 943.2 216.6 943.8 216.8 944.3 216.3 944.9 215.9 945.4 216.8 946.0 216.9 946.5 215.9 947.1 216.1 947.6 216.4 950.0 234.3 950.0 234.0 950.6 234.2 951.2 234.8 951.9 234.7 952.5 234.2 953.1 234.6 953.7 234.7 954.4 234.7 955.0 234.5 955.6 234.8 956.2 234.2 956.8 234.1 957.5 234.3 958.1 234.3 958.7 234.4 959.3 234.5 960.0 234.0 960.6 234.7 961.2 234.5 961.8 234.8 962.4 234.1 963.1 234.6 963.7 234.1 964.3 233.9 964.9 234.5 965.5 234.0 966.2 234.5 966.8 234.3 967.4 234.6 968.0 234.7 968.7 233.8 969.3 234.5 969.9 234.2" fill="none" stroke="#0000ff" stroke-width="0.8" stroke-linejoin="round"/><path d="M586.5 246.4 586.9 223.0 587.2 244.4 587.6 221.8 587.9 245.4 588.3 221.7 588.6 247.1 589.0 222.8 589.3 245.2 589.7 223.8 590.0 250.5 590.4 220.7 590.7 244.6 591.1 220.6 591.4 251.3 591.8 218.7 592.1 243.4 592.5 221.7 592.8 246.0 593.2 222.6 593.5 246.5 593.9 219.2 594.2 244.6 594.6 220.6 594.9 246.5 595.3 223.1 595.6 251.1 596.0 224.2 596.3 246.0 596.7 218.8 597.0 244.3 597.4 222.5 597.7 249.4 598.1 220.6 598.4 251.4 598.8 218.4" fill="none" stroke="#0000ff" stroke-width="0.5" stroke-linejoin="round"/><path d="M620.8 237.8 621.0 228.5 621.2 236.5 621.4 221.6 621.5 238.2 621.7 225.3 621.9 244.3 622.1 227.7 622.3 246.6 622.5 225.2 622.7 239.6 622.8 228.5 623.0 237.4 623.2 229.7 623.4 236.8" fill="none" stroke="#0000ff" stroke-width="0.5" stroke-linejoin="round"/><path d="M636.9 237.6 637.1 227.7 637.3 236.6 637.5 230.0 637.7 244.4 637.9 221.6 638.1 249.8 638.3 226.1 638.6 251.0 638.8 216.4 639.0 241.0 639.2 223.7 639.4 242.3 639.6 221.9 639.8 236.7 640.0 220.9 640.2 237.5 640.4 225.0 640.6 239.2 640.8 225.6 641.0 247.7 641.2 221.1 641.5 241.3 641.7 226.6 641.9 242.0 642.1 228.2 642.3 251.0 642.5 229.7 642.7 239.4 642.9 228.8 643.1 244.7 643.3 228.4 643.5 237.1 643.7 224.9 643.9 243.4 644.1 220.7 644.4 241.3 644.6 213.8 644.8 238.8 645.0 222.0 645.2 238.4 645.4 224.4 645.6 235.2 645.8 232.2" fill="none" stroke="#0000ff" stroke-width="0.5" stroke-linejoin="round"/><path d="M674.1 244.8 674.4 225.7 674.8 248.3 675.1 225.5 675.5 246.1 675.8 224.1 676.2 242.5 676.5 223.1 676.8 242.6 677.2 223.5 677.5 242.0 677.9 224.2 678.2 245.0 678.6 223.7 678.9 242.1 679.2 223.7 679.6 242.1 679.9 220.1 680.3 246.5 680.6 221.2 681.0 244.0 681.3 218.7 681.6 244.6 682.0 220.9 682.3 244.3 682.7 223.5 683.0 247.8 683.4 219.1 683.7 244.5 684.0 225.8 684.4 242.5 684.7 218.5 685.1 245.7 685.4 223.3 685.8 248.0 686.1 220.8" fill="none" stroke="#0000ff" stroke-width="0.5" stroke-linejoin="round"/><path d="M751.2 276.4 751.5 186.9 751.9 269.4 752.2 183.2 752.6 276.7 752.9 197.7 753.3 281.7 753.6 199.4 754.0 271.3 754.3 184.7 754.6 270.3 755.0 193.9 755.3 284.0 755.7 189.8 756.0 278.6 756.4 195.9 756.7 276.4 757.1 185.7 757.4 277.5 757.7 191.1 758.1 274.3 758.4 184.9 758.8 266.2 759.1 188.0 759.5 278.4 759.8 192.6 760.2 284.6 760.5 182.7 760.8 274.2 761.2 189.8 761.5 274.3 761.9 193.0 762.2 273.8 762.6 200.6 762.9 281.2 763.3 198.8 763.6 267.8 763.9 184.1 764.3 267.2 764.6 191.0 765.0 274.6 765.3 186.4 765.7 283.2 766.0 198.1 766.4 273.6 766.7 187.6" fill="none" stroke="#0000ff" stroke-width="0.5" stroke-linejoin="round"/><path d="M812.5 245.9 812.8 215.6 813.0 262.1 813.3 211.0 813.5 255.7 813.8 219.9 814.0 250.9 814.3 214.3 814.6 256.6 814.8 208.5 815.1 260.5 815.3 216.5 815.6 259.0 815.8 216.0 816.1 251.4 816.3 211.0 816.6 257.4 816.9 216.8 817.1 248.7 817.4 212.2 817.6 256.4 817.9 206.2 818.1 247.2 818.4 209.6 818.7 255.5 818.9 224.0 819.2 254.3 819.4 208.8 819.7 262.8 819.9 206.7 820.2 246.9 820.4 222.4 820.7 243.7 821.0 218.2 821.2 250.7 821.5 224.3 821.7 261.8 822.0 224.0 822.2 249.6 822.5 220.0 822.8 264.1 823.0 210.8 823.3 256.3 823.5 210.1 823.8 259.2 824.0 207.2 824.3 245.6 824.5 214.2 824.8 263.3 825.1 203.4 825.3 257.1 825.6 212.4 825.8 262.4 826.1 215.4 826.3 253.5 826.6 224.2 826.9 250.2 827.1 214.3 827.4 257.6 827.6 220.4 827.9 260.1 828.1 210.3 828.4 263.9 828.6 219.5 828.9 255.6 829.2 211.1 829.4 256.4 829.7 203.4 829.9 262.1 830.2 205.1 830.4 251.9 830.7 206.8" fill="none" stroke="#0000ff" stroke-width="0.5" stroke-linejoin="round"/><path d="M868.6 227.4 868.9 251.4 869.3 219.7 869.6 243.1 870.0 223.6 870.3 246.6 870.7 219.1 871.0 246.0 871.4 222.4 871.7 244.7 872.0 214.1 872.4 244.4 872.7 217.1 873.1 247.7 873.4 215.8 873.8 251.2 874.1 224.9 874.4 250.7 874.8 222.2 875.1 246.7 875.5 223.5 875.8 244.7 876.2 219.1 876.5 247.9 876.9 225.4 877.2 249.2 877.5 221.4 877.9 249.5 878.2 224.9 878.6 247.3 878.9 226.3 879.3 249.2 879.6 223.5" fill="none" stroke="#0000ff" stroke-width="0.5" stroke-linejoin="round"/><path d="M892.8 231.3 893.0 238.8 893.2 228.6 893.4 241.2 893.6 226.5 893.7 243.9 893.9 229.7 894.1 238.8 894.3 230.2 894.5 235.8" fill="none" stroke="#0000ff" stroke-width="0.5" stroke-linejoin="round"/><path d="M902.0 226.4 902.2 237.5 902.4 222.5 902.6 239.1 902.7 224.4 902.9 245.0 903.1 227.0 903.3 242.1 903.5 225.9 903.7 260.3 903.9 230.6 904.0 246.1 904.2 229.7 904.4 241.7 904.6 233.2" fill="none" stroke="#0000ff" stroke-width="0.5" stroke-linejoin="round"/><path d="M571.50 234.27H586.65M598.81 234.27H620.81M623.61 234.27H636.92M645.62 234.27H674.03M685.93 234.27H706.73M709.53 234.27H719.84M724.64 234.27H751.25M767.05 234.27H771.95M794.66 234.27H812.76M830.87 234.27H868.87M879.28 234.27H892.88M894.78 234.27H902.08M905.38 234.27H936.59M953.60 234.27H969.90" fill="none" stroke="#ff0000" stroke-opacity="0.42" stroke-width="1"/><path d="M586.65 234.77V180.20H598.81V234.77M620.81 234.77V180.20H623.61V234.77M636.92 234.77V180.20H645.62V234.77M674.03 234.77V180.20H685.93V234.77M706.73 234.77V180.20H709.53V234.77M719.84 234.77V180.20H724.64V234.77M751.25 234.77V180.20H767.05V234.77M771.95 234.77V180.20H794.66V234.77M812.76 234.77V180.20H830.87V234.77M868.87 234.77V180.20H879.28V234.77M892.88 234.77V180.20H894.78V234.77M902.08 234.77V180.20H905.38V234.77M936.59 234.77V180.20H953.60V234.77" fill="none" stroke="#ff0000" stroke-opacity="0.57" stroke-width="1"/></g><path d="M571.00 178.10H970.40M571.00 290.45H970.40M571.50 178.10V290.45M969.90 178.10V290.45" stroke="#6e6e6e" stroke-width="1.1" fill="none"/><path d="M571.50 290.45V286.45M571.50 178.10V182.10M621.30 290.45V286.45M621.30 178.10V182.10M671.10 290.45V286.45M671.10 178.10V182.10M720.90 290.45V286.45M720.90 178.10V182.10M770.70 290.45V286.45M770.70 178.10V182.10M820.50 290.45V286.45M820.50 178.10V182.10M870.30 290.45V286.45M870.30 178.10V182.10M920.10 290.45V286.45M920.10 178.10V182.10M969.90 290.45V286.45M969.90 178.10V182.10M571.50 290.45H575.50M969.90 290.45H965.90M571.50 234.27H575.50M969.90 234.27H965.90M571.50 178.10H575.50M969.90 178.10H965.90" stroke="#6e6e6e" stroke-width="1" fill="none"/><text x="571.50" y="306.80" text-anchor="middle">0</text><text x="621.30" y="306.80" text-anchor="middle">20</text><text x="671.10" y="306.80" text-anchor="middle">40</text><text x="720.90" y="306.80" text-anchor="middle">60</text><text x="770.70" y="306.80" text-anchor="middle">80</text><text x="820.50" y="306.80" text-anchor="middle"> 00</text><path transform="translate(808.82 307)" d="M4.6 0H3.25V-7.15H1.15V-8.0C2.3 -8.1 3.0 -8.5 3.3 -9.9H4.6Z"/><text x="870.30" y="306.80" text-anchor="middle"> 20</text><path transform="translate(858.62 307)" d="M4.6 0H3.25V-7.15H1.15V-8.0C2.3 -8.1 3.0 -8.5 3.3 -9.9H4.6Z"/><text x="920.10" y="306.80" text-anchor="middle"> 40</text><path transform="translate(908.42 307)" d="M4.6 0H3.25V-7.15H1.15V-8.0C2.3 -8.1 3.0 -8.5 3.3 -9.9H4.6Z"/><text x="969.90" y="306.80" text-anchor="middle"> 60</text><path transform="translate(958.22 307)" d="M4.6 0H3.25V-7.15H1.15V-8.0C2.3 -8.1 3.0 -8.5 3.3 -9.9H4.6Z"/><text x="568.00" y="295.65" text-anchor="end"><tspan dy=" .3">−</tspan><tspan dy="- .3" dx="0.4">500</tspan></text><text x="568.00" y="239.47" text-anchor="end">0</text><text x="568.00" y="183.30" text-anchor="end">500</text><text x="770.50" y="322.00" text-anchor="middle">Time (s)</text><text transform="translate(511.50 235.12) rotate(-90)" text-anchor="middle">Angular</text><text transform="translate(527.70 232.97) rotate(-90)" text-anchor="middle">Rate (deg/s)</text><rect x="858.30" y="273.10" width="134.8" height="39.5" fill="#fff" stroke="#6e6e6e" stroke-width="1.1"/><path d="M864.80 284.10H899.80" stroke="#0000ff" stroke-opacity="0.6" stroke-width="1"/><path d="M864.80 301.90H899.80" stroke="#ff0000" stroke-opacity="0.6" stroke-width="1"/><text x="904.10" y="288.70">Gy</text><text x="904.10" y="306.70">Actual Marker</text><defs><clipPath id="c5"><rect x="571.50" y="341.70" width="398.40" height="112.40"/></clipPath></defs><g clip-path="url(#c5)"><path d="M571.5 397.5 572.1 397.3 572.8 397.0 573.4 397.3 574.0 397.5 574.6 397.0 575.2 397.7 575.9 397.7 576.5 397.0 577.1 397.7 577.8 397.1 578.4 397.6 579.0 397.1 579.6 397.6 580.2 397.8 580.9 397.8 581.5 397.5 582.1 397.1 582.8 397.3 583.4 397.2 584.0 397.8 584.6 397.2 585.2 397.5 585.9 397.3 586.5 397.1 586.5 391.2 586.7 403.0 586.9 389.7 587.1 403.8 587.3 388.5 587.5 404.1 587.7 390.2 587.9 401.3 588.1 390.1 588.3 401.2 588.5 391.3 588.8 404.4 589.0 390.7 589.2 403.8 589.4 391.5 589.6 403.3 589.8 392.2 590.0 402.6 590.2 390.8 590.4 404.3 590.6 392.4 590.8 402.3 591.0 392.8 591.2 404.0 591.4 392.6 591.6 401.9 591.8 390.6 592.0 401.4 592.2 391.7 592.4 402.3 592.6 390.2 592.9 401.3 593.1 391.6 593.3 403.9 593.5 392.1 593.7 403.7 593.9 389.6 594.1 402.3 594.3 391.7 594.5 403.3 594.7 391.8 594.9 402.5 595.1 389.8 595.3 404.4 595.5 390.3 595.7 402.2 595.9 390.7 596.1 401.3 596.3 391.0 596.5 404.2 596.8 386.4 597.0 402.3 597.2 388.6 597.4 402.2 597.6 391.1 597.8 403.4 598.0 392.8 598.2 403.0 598.4 390.1 598.6 403.2 598.8 392.8 598.8 397.2 599.4 397.7 600.0 397.6 600.7 397.1 601.3 397.5 601.9 397.6 602.5 397.4 603.2 397.4 603.8 397.0 604.4 397.1 605.0 397.7 605.7 397.4 606.3 397.3 606.9 397.8 607.5 397.1 608.1 397.0 608.8 397.3 609.4 397.0 610.0 397.1 610.6 397.6 611.3 397.0 611.9 397.7 612.5 397.3 613.1 397.1 613.7 397.2 614.4 397.1 615.0 397.4 615.6 397.2 616.2 397.7 616.9 397.7 617.5 397.4 618.1 397.2 618.7 397.5 619.4 397.0 620.0 397.7 620.6 397.2 620.7 397.9 621.0 421.4 621.5 390.0 622.0 370.5 622.5 395.0 623.2 427.5 623.8 410.0 624.2 397.9 624.2 397.0 624.9 397.2 625.5 397.1 626.2 397.0 626.8 397.1 627.5 397.5 628.1 397.3 628.8 397.4 629.5 397.0 630.1 397.4 630.8 397.1 631.4 397.3 632.1 397.0 632.8 397.5 633.4 397.0 634.1 397.0 634.7 397.2 635.4 397.4 636.0 397.1 636.7 397.1 636.8 397.9 637.3 380.0 637.8 424.4 638.1 356.2 639.0 380.0 640.0 410.0 641.0 430.0 641.8 436.6 642.6 410.0 643.3 375.0 644.0 360.3 644.8 385.0 645.5 404.0 645.9 397.9 646.0 397.0 646.6 397.5 647.2 397.2 647.9 397.1 648.5 397.0 649.1 397.1 649.7 397.7 650.4 397.0 651.0 397.0 651.6 397.3 652.2 397.4 652.9 397.0 653.5 397.4 654.1 397.0 654.7 397.2 655.4 397.1 656.0 397.2 656.6 397.8 657.2 397.0 657.9 397.4 658.5 397.5 659.1 397.2 659.7 397.2 660.4 397.1 661.0 397.4 661.6 397.7 662.2 397.3 662.9 397.4 663.5 397.8 664.1 397.4 664.7 397.7 665.4 397.8 666.0 397.3 666.6 397.1 667.2 397.4 667.9 397.0 668.5 397.0 669.1 397.8 669.7 397.2 670.4 397.5 671.0 397.2 671.6 397.1 672.2 397.8 672.9 397.7 673.5 397.4 674.1 397.8 674.1 404.3 674.3 389.6 674.5 403.6 674.7 386.5 674.9 404.6 675.1 386.3 675.3 403.9 675.5 389.9 675.7 404.7 675.9 388.1 676.1 403.3 676.3 386.0 676.5 402.3 676.7 389.3 676.9 405.9 677.2 386.6 677.4 404.0 677.6 387.3 677.8 405.7 678.0 389.0 678.2 404.4 678.4 390.7 678.6 403.3 678.8 388.9 679.0 402.5 679.2 387.5 679.4 403.1 679.6 387.3 679.8 405.3 680.0 391.2 680.2 405.1 680.4 386.5 680.6 414.6 680.8 390.9 681.0 403.0 681.2 387.2 681.4 405.3 681.6 390.4 681.8 406.2 682.0 388.6 682.2 403.3 682.4 388.6 682.6 403.4 682.8 386.0 683.0 405.7 683.3 388.6 683.5 403.1 683.7 389.3 683.9 404.8 684.1 387.6 684.3 405.4 684.5 389.7 684.7 405.3 684.9 390.5 685.1 405.6 685.3 390.7 685.5 405.9 685.7 387.7 685.9 405.7 686.1 386.5 686.1 397.7 686.7 397.0 687.4 397.8 688.0 397.5 688.6 397.6 689.3 397.7 689.9 397.8 690.5 397.8 691.2 397.0 691.8 397.2 692.4 397.7 693.1 397.1 693.7 397.1 694.3 397.1 695.0 397.5 695.6 397.7 696.2 397.7 696.9 397.1 697.5 397.2 698.1 397.7 698.8 397.4 699.4 397.1 700.0 397.3 700.7 397.8 701.3 397.8 701.9 397.7 702.6 397.3 703.2 397.4 703.8 397.2 704.5 397.7 705.1 397.5 705.7 397.1 706.4 397.8 707.0 397.8 707.3 393.9 707.9 397.9 708.4 401.4 709.0 397.9 709.0 397.8 709.7 397.8 710.3 397.4 711.0 397.3 711.7 397.6 712.3 397.1 713.0 397.0 713.7 397.6 714.3 397.4 715.0 397.8 715.6 397.4 716.3 397.7 717.0 397.2 717.6 397.6 718.3 397.3 719.0 397.7 719.6 397.7 720.3 397.6 720.6 394.3 721.6 397.9 722.4 401.0 723.4 397.9 723.4 397.0 724.0 397.7 724.6 397.3 725.2 397.0 725.9 397.5 726.5 397.6 727.1 397.6 727.7 397.6 728.3 397.2 728.9 397.4 729.6 397.0 730.2 397.3 730.8 397.6 731.4 397.0 732.0 397.5 732.6 397.1 733.2 397.2 733.9 397.0 734.5 397.6 735.1 397.8 735.7 397.6 736.3 397.1 736.9 397.2 737.6 397.6 738.2 397.1 738.8 397.0 739.4 397.3 740.0 397.8 740.6 397.0 741.3 397.6 741.9 397.1 742.5 397.4 743.1 397.3 743.7 397.4 744.3 397.0 744.9 397.6 745.6 397.4 746.2 397.8 746.8 397.8 747.4 397.8 748.0 397.7 748.6 397.7 749.3 397.8 749.9 397.6 750.5 397.0 751.1 397.5 751.1 426.3 751.3 373.6 751.5 418.7 751.7 373.2 751.9 418.0 752.1 374.9 752.3 419.4 752.5 376.0 752.7 420.0 752.9 372.0 753.1 417.2 753.3 373.1 753.5 416.0 753.7 376.2 753.9 419.7 754.1 375.1 754.3 417.7 754.5 373.5 754.7 416.2 754.9 372.6 755.2 418.2 755.4 372.3 755.6 418.8 755.8 372.7 756.0 417.3 756.2 371.7 756.4 418.0 756.6 376.1 756.8 418.8 757.0 371.5 757.2 419.7 757.4 371.9 757.6 416.9 757.8 374.9 758.0 418.9 758.2 371.6 758.4 416.2 758.6 376.0 758.8 419.3 759.0 372.9 759.2 416.0 759.4 372.4 759.6 416.6 759.8 376.3 760.0 419.5 760.2 374.1 760.4 417.3 760.6 375.8 760.8 416.7 761.0 374.4 761.2 416.9 761.4 372.6 761.6 417.8 761.8 372.5 762.0 418.3 762.2 373.1 762.4 417.8 762.6 375.6 762.9 416.2 763.1 370.9 763.3 418.5 763.5 376.1 763.7 417.7 763.9 372.8 764.1 417.4 764.3 376.2 764.5 420.1 764.7 372.4 764.9 416.0 765.1 375.5 765.3 416.5 765.5 374.2 765.7 419.6 765.9 370.2 766.1 418.4 766.3 372.7 766.5 416.1 766.7 371.6 766.7 397.6 767.3 397.6 767.9 397.1 768.5 397.8 769.1 397.7 769.8 397.1 770.4 397.3 771.0 397.6 771.6 397.1 772.2 397.5 772.8 397.1 773.4 397.4 774.0 397.8 774.6 397.3 775.2 397.3 775.9 397.1 776.5 397.4 777.1 397.0 777.7 397.5 778.3 397.8 778.9 397.3 779.5 397.2 780.1 397.8 780.7 397.6 781.4 397.2 782.0 397.8 782.6 397.8 783.2 397.5 783.8 397.0 784.4 397.8 785.0 397.5 785.6 397.8 786.2 397.6 786.9 397.7 787.5 397.8 788.1 397.6 788.7 397.4 789.3 397.8 789.9 397.2 790.5 397.3 791.1 397.3 791.7 397.4 792.3 397.4 793.0 397.0 793.6 397.7 794.2 397.7 794.8 397.0 795.4 397.3 796.0 397.3 796.6 397.7 797.2 397.0 797.8 397.2 798.5 397.6 799.1 397.8 799.7 397.5 800.3 397.6 800.9 397.2 801.5 397.0 802.1 397.4 802.7 397.7 803.3 397.6 804.0 397.2 804.6 397.7 805.2 397.1 805.8 397.0 806.4 397.0 807.0 397.5 807.6 397.2 808.2 397.2 808.8 397.8 809.4 397.2 810.1 397.4 810.7 397.2 811.3 397.8 811.9 397.1 812.5 397.5 812.5 397.9 M830.5 397.9 830.5 397.7 831.1 397.5 831.7 397.8 832.3 397.8 833.0 397.4 833.6 397.7 834.2 397.3 834.8 397.6 835.4 397.6 836.0 397.1 836.6 397.4 837.3 397.8 837.9 397.7 838.5 397.0 839.1 397.8 839.7 397.0 840.3 397.0 840.9 397.7 841.6 397.6 842.2 397.5 842.8 397.7 843.4 397.8 844.0 397.7 844.6 397.4 845.2 397.8 845.9 397.6 846.5 397.0 847.1 397.1 847.7 397.5 848.3 397.4 848.9 397.4 849.5 397.7 850.2 397.2 850.8 397.8 851.4 397.0 852.0 397.7 852.6 397.5 853.2 397.1 853.9 397.7 854.5 397.4 855.1 397.1 855.7 397.2 856.3 397.2 856.9 397.5 857.5 397.2 858.2 397.1 858.8 397.4 859.4 397.6 860.0 397.7 860.6 397.2 861.2 397.7 861.8 397.8 862.5 397.8 863.1 397.6 863.7 397.1 864.3 397.5 864.9 397.4 865.5 397.0 866.1 397.6 866.8 397.7 867.4 397.1 868.0 397.7 868.6 397.6 868.6 404.4 868.8 389.4 869.0 404.8 869.2 390.4 869.4 402.9 869.6 389.7 869.8 403.1 870.0 393.2 870.2 403.6 870.4 393.0 870.6 404.7 870.8 390.6 871.0 403.2 871.2 390.3 871.5 402.0 871.7 392.8 871.9 403.6 872.1 392.8 872.3 402.6 872.5 391.5 872.7 403.0 872.9 392.5 873.1 401.8 873.3 392.5 873.5 405.1 873.7 392.0 873.9 402.1 874.1 390.6 874.3 403.7 874.5 391.0 874.7 404.5 874.9 392.9 875.1 401.8 875.3 391.0 875.5 408.0 875.7 393.2 875.9 403.0 876.1 390.6 876.3 404.5 876.5 389.7 876.7 402.9 877.0 391.6 877.2 404.6 877.4 392.1 877.6 404.3 877.8 392.6 878.0 401.8 878.2 393.3 878.4 404.3 878.6 392.4 878.8 404.6 879.0 389.8 879.2 404.7 879.4 392.1 879.6 404.8 879.6 397.6 880.3 397.5 880.9 397.6 881.6 397.6 882.2 397.5 882.9 397.2 883.5 397.0 884.2 397.6 884.8 397.5 885.5 397.8 886.2 397.1 886.8 397.8 887.5 397.6 888.1 397.3 888.8 397.8 889.4 397.7 890.1 397.8 890.7 397.7 891.4 397.0 892.0 397.2 892.7 397.3 892.8 397.9 893.2 363.6 893.6 380.0 894.0 429.7 894.4 410.0 894.7 397.9 894.7 397.5 895.4 397.3 896.1 397.8 896.9 397.2 897.6 397.5 898.3 397.0 899.0 397.7 899.7 397.5 900.5 397.8 901.2 397.1 901.9 397.1 902.0 397.9 902.6 351.0 903.2 370.0 903.6 400.0 904.0 454.5 904.5 420.0 905.0 397.9 905.0 397.4 905.6 397.2 906.2 397.5 906.8 397.4 907.4 397.8 908.0 397.6 908.6 397.5 909.2 397.3 909.9 397.0 910.5 397.8 911.1 397.5 911.7 397.2 912.3 397.4 912.9 397.8 913.5 397.0 914.1 397.5 914.7 397.8 915.3 397.6 915.9 397.6 916.5 397.2 917.1 397.3 917.7 397.8 918.3 397.0 919.0 397.7 919.6 397.2 920.2 397.6 920.8 397.1 921.4 397.0 922.0 397.1 922.6 397.5 923.2 397.6 923.8 397.4 924.4 397.1 925.0 397.7 925.6 397.6 926.2 397.5 926.8 397.1 927.4 397.5 928.0 397.0 928.7 397.3 929.3 397.3 929.9 397.3 930.5 397.5 931.1 397.2 931.7 397.4 932.3 397.0 932.9 397.8 933.5 397.5 934.1 397.1 934.7 397.0 935.3 397.6 935.9 397.8 936.5 397.2 937.1 397.6 937.8 397.1 938.4 397.0 939.0 397.0 939.6 397.7 940.2 397.0 940.8 397.6 941.4 397.1 942.0 397.5 942.6 397.8 943.2 397.6 943.8 397.5 944.4 397.6 945.0 397.1 945.6 397.4 946.2 397.2 946.9 397.7 947.5 397.1 948.1 397.3 948.7 397.2 949.3 397.2 949.9 397.7 950.5 397.4 951.1 397.6 951.7 397.1 952.3 397.1 952.9 397.8 953.5 397.0 954.1 397.7 954.7 397.3 955.3 397.8 955.9 397.2 956.6 397.0 957.2 397.3 957.8 397.2 958.4 397.5 959.0 397.0 959.6 397.2 960.2 397.7 960.8 397.5 961.4 397.8 962.0 397.3 962.6 397.6 963.2 397.8 963.8 397.6 964.4 397.7 965.0 397.0 965.7 397.6 966.3 397.1 966.9 397.8 967.5 397.8 968.1 397.7 968.7 397.7 969.3 397.5 969.9 397.2" fill="none" stroke="#0000ff" stroke-width="0.8" stroke-linejoin="round"/><path d="M586.5 405.7 586.9 388.6 587.2 405.8 587.6 388.4 587.9 406.4 588.3 386.0 588.6 408.9 589.0 384.7 589.3 409.7 589.7 382.9 590.0 409.2 590.4 389.9 590.7 412.2 591.1 388.7 591.4 404.3 591.8 390.0 592.1 413.5 592.5 383.4 592.8 409.8 593.2 382.8 593.5 409.3 593.9 380.6 594.2 405.3 594.6 387.9 594.9 410.4 595.3 381.8 595.6 404.4 596.0 384.0 596.3 405.6 596.7 389.2 597.0 409.4 597.4 385.7 597.7 404.7 598.1 384.8 598.4 402.4 598.8 384.7" fill="none" stroke="#0000ff" stroke-width="0.5" stroke-linejoin="round"/><path d="M620.8 408.7 621.0 392.3 621.2 410.4 621.3 386.5 621.5 407.9 621.7 381.3 621.9 409.5 622.1 372.8 622.3 409.1 622.5 383.3 622.6 406.9 622.8 382.7 623.0 417.2 623.2 389.6 623.4 410.3 623.5 391.5 623.7 405.9 623.9 394.7 624.1 402.8" fill="none" stroke="#0000ff" stroke-width="0.5" stroke-linejoin="round"/><path d="M636.9 394.2 637.1 401.2 637.2 378.8 637.4 404.8 637.6 375.5 637.8 408.9 637.9 380.4 638.1 404.6 638.3 369.5 638.4 410.5 638.6 363.9 638.8 409.2 639.0 386.8 639.1 406.4 639.3 378.9 639.5 407.4 639.6 374.4 639.8 414.1 640.0 378.7 640.2 419.3 640.3 386.1 640.5 408.6 640.7 393.7 640.8 426.5 641.0 391.4 641.2 424.0 641.3 388.8 641.5 425.1 641.7 384.8 641.9 415.0 642.0 382.2 642.2 413.7 642.4 381.1 642.5 408.4 642.7 376.3 642.9 409.2 643.1 389.4 643.2 417.5 643.4 369.6 643.6 407.0 643.7 370.6 643.9 406.3 644.1 370.4 644.3 404.4 644.4 380.2 644.6 402.4 644.8 376.5 644.9 405.0 645.1 379.5 645.3 400.9 645.5 386.3 645.6 400.3 645.8 396.3" fill="none" stroke="#0000ff" stroke-width="0.5" stroke-linejoin="round"/><path d="M674.1 413.8 674.4 389.0 674.8 414.1 675.1 384.8 675.5 413.2 675.8 383.4 676.2 410.8 676.5 389.0 676.8 413.5 677.2 386.2 677.5 408.1 677.9 384.5 678.2 411.4 678.6 386.5 678.9 408.4 679.2 380.7 679.6 409.2 679.9 388.4 680.3 411.5 680.6 387.9 681.0 415.0 681.3 387.4 681.6 406.6 682.0 382.1 682.3 411.0 682.7 387.8 683.0 410.4 683.4 382.2 683.7 408.6 684.0 380.8 684.4 408.2 684.7 377.0 685.1 410.6 685.4 379.9 685.8 408.9 686.1 376.6" fill="none" stroke="#0000ff" stroke-width="0.5" stroke-linejoin="round"/><path d="M751.1 420.6 751.4 373.1 751.8 429.6 752.1 367.5 752.5 422.6 752.8 367.2 753.2 422.9 753.5 370.6 753.9 436.4 754.2 367.1 754.6 431.0 754.9 373.8 755.3 423.6 755.6 378.8 756.0 432.2 756.3 370.3 756.6 430.6 757.0 374.6 757.3 424.2 757.7 364.5 758.0 430.9 758.4 365.2 758.7 433.9 759.1 367.7 759.4 429.8 759.8 363.5 760.1 433.1 760.5 371.6 760.8 418.5 761.2 366.1 761.5 424.4 761.8 370.7 762.2 435.9 762.5 373.4 762.9 433.7 763.2 364.9 763.6 422.7 763.9 371.4 764.3 425.5 764.6 378.4 765.0 424.9 765.3 369.8 765.7 429.6 766.0 376.7 766.4 425.4 766.7 372.9" fill="none" stroke="#0000ff" stroke-width="0.5" stroke-linejoin="round"/><path d="M812.5 430.0 812.7 365.6 812.9 416.7 813.1 378.6 813.3 422.9 813.5 365.4 813.7 416.0 813.9 370.5 814.1 420.6 814.3 385.1 814.5 418.6 814.7 384.1 814.9 431.2 815.1 367.1 815.3 418.0 815.5 381.4 815.7 429.8 815.9 367.1 816.1 428.1 816.3 374.0 816.5 425.4 816.7 367.5 816.9 424.3 817.2 385.7 817.4 419.7 817.6 380.1 817.8 429.7 818.0 365.5 818.2 421.6 818.4 371.4 818.6 425.7 818.8 374.0 819.0 412.5 819.2 366.2 819.4 429.8 819.6 369.9 819.8 415.6 820.0 375.4 820.2 419.4 820.4 365.6 820.6 422.5 820.8 374.3 821.0 418.4 821.2 378.9 821.4 428.1 821.6 368.0 821.8 409.9 822.0 372.4 822.2 428.7 822.4 379.1 822.6 424.2 822.8 375.6 823.0 417.1 823.2 378.6 823.4 415.0 823.6 366.3 823.8 420.1 824.0 376.8 824.2 429.3 824.4 379.1 824.6 421.2 824.8 367.2 825.0 410.5 825.2 372.4 825.4 424.4 825.6 372.9 825.8 417.6 826.1 368.3 826.3 414.3 826.5 372.6 826.7 417.8 826.9 376.8 827.1 409.9 827.3 373.8 827.5 417.6 827.7 380.0 827.9 416.7 828.1 374.4 828.3 414.4 828.5 371.0 828.7 414.2 828.9 382.0 829.1 427.7 829.3 375.6 829.5 413.0 829.7 382.0 829.9 426.5 830.1 367.0 830.3 423.7 830.5 365.3" fill="none" stroke="#0000ff" stroke-width="0.5" stroke-linejoin="round"/><path d="M868.6 383.8 868.9 405.3 869.3 387.1 869.6 409.7 870.0 388.7 870.3 409.3 870.7 390.1 871.0 407.1 871.4 388.5 871.7 408.4 872.0 384.0 872.4 409.5 872.7 385.0 873.1 407.4 873.4 390.1 873.8 404.2 874.1 386.5 874.4 409.0 874.8 389.4 875.1 404.8 875.5 385.2 875.8 409.1 876.2 385.3 876.5 404.6 876.9 389.2 877.2 405.4 877.5 386.3 877.9 407.5 878.2 387.4 878.6 405.0 878.9 387.0 879.3 409.3 879.6 390.2" fill="none" stroke="#0000ff" stroke-width="0.5" stroke-linejoin="round"/><path d="M892.8 391.0 893.0 406.1 893.2 387.3 893.4 416.9 893.6 377.0 893.8 417.3 893.9 387.1 894.1 421.7 894.3 392.9 894.5 404.3 894.7 396.5" fill="none" stroke="#0000ff" stroke-width="0.5" stroke-linejoin="round"/><path d="M902.0 390.3 902.2 402.3 902.4 380.0 902.5 405.7 902.7 366.6 902.9 404.3 903.1 375.4 903.2 415.7 903.4 380.7 903.6 409.0 903.8 390.7 903.9 416.5 904.1 385.3 904.3 429.2 904.5 393.3 904.6 416.2 904.8 395.5 905.0 402.7" fill="none" stroke="#0000ff" stroke-width="0.5" stroke-linejoin="round"/><path d="M571.50 397.90H586.65M598.81 397.90H620.81M623.61 397.90H636.92M645.62 397.90H674.03M685.93 397.90H706.73M709.53 397.90H719.84M724.64 397.90H751.25M767.05 397.90H771.95M794.66 397.90H812.76M830.87 397.90H868.87M879.28 397.90H892.88M894.78 397.90H902.08M905.38 397.90H936.59M953.60 397.90H969.90" fill="none" stroke="#ff0000" stroke-opacity="0.42" stroke-width="1"/><path d="M586.65 398.40V351.10H598.81V398.40M620.81 398.40V351.10H623.61V398.40M636.92 398.40V351.10H645.62V398.40M674.03 398.40V351.10H685.93V398.40M706.73 398.40V351.10H709.53V398.40M719.84 398.40V351.10H724.64V398.40M751.25 398.40V351.10H767.05V398.40M771.95 398.40V351.10H794.66V398.40M812.76 398.40V351.10H830.87V398.40M868.87 398.40V351.10H879.28V398.40M892.88 398.40V351.10H894.78V398.40M902.08 398.40V351.10H905.38V398.40M936.59 398.40V351.10H953.60V398.40" fill="none" stroke="#ff0000" stroke-opacity="0.57" stroke-width="1"/></g><path d="M571.00 341.70H970.40M571.00 454.10H970.40M571.50 341.70V454.10M969.90 341.70V454.10" stroke="#6e6e6e" stroke-width="1.1" fill="none"/><path d="M571.50 454.10V450.10M571.50 341.70V345.70M621.30 454.10V450.10M621.30 341.70V345.70M671.10 454.10V450.10M671.10 341.70V345.70M720.90 454.10V450.10M720.90 341.70V345.70M770.70 454.10V450.10M770.70 341.70V345.70M820.50 454.10V450.10M820.50 341.70V345.70M870.30 454.10V450.10M870.30 341.70V345.70M920.10 454.10V450.10M920.10 341.70V345.70M969.90 454.10V450.10M969.90 341.70V345.70M571.50 454.10H575.50M969.90 454.10H965.90M571.50 426.00H575.50M969.90 426.00H965.90M571.50 397.90H575.50M969.90 397.90H965.90M571.50 369.80H575.50M969.90 369.80H965.90M571.50 341.70H575.50M969.90 341.70H965.90" stroke="#6e6e6e" stroke-width="1" fill="none"/><text x="571.50" y="470.20" text-anchor="middle">0</text><text x="621.30" y="470.20" text-anchor="middle">20</text><text x="671.10" y="470.20" text-anchor="middle">40</text><text x="720.90" y="470.20" text-anchor="middle">60</text><text x="770.70" y="470.20" text-anchor="middle">80</text><text x="820.50" y="470.20" text-anchor="middle"> 00</text><path transform="translate(808.82 470)" d="M4.6 0H3.25V-7.15H1.15V-8.0C2.3 -8.1 3.0 -8.5 3.3 -9.9H4.6Z"/><text x="870.30" y="470.20" text-anchor="middle"> 20</text><path transform="translate(858.62 470)" d="M4.6 0H3.25V-7.15H1.15V-8.0C2.3 -8.1 3.0 -8.5 3.3 -9.9H4.6Z"/><text x="920.10" y="470.20" text-anchor="middle"> 40</text><path transform="translate(908.42 470)" d="M4.6 0H3.25V-7.15H1.15V-8.0C2.3 -8.1 3.0 -8.5 3.3 -9.9H4.6Z"/><text x="969.90" y="470.20" text-anchor="middle"> 60</text><path transform="translate(958.22 470)" d="M4.6 0H3.25V-7.15H1.15V-8.0C2.3 -8.1 3.0 -8.5 3.3 -9.9H4.6Z"/><text x="568.00" y="459.30" text-anchor="end"><tspan dy=" .3">−</tspan><tspan dy="- .3" dx="0.4">400</tspan></text><text x="568.00" y="431.20" text-anchor="end"><tspan dy=" .3">−</tspan><tspan dy="- .3" dx="0.4">200</tspan></text><text x="568.00" y="403.10" text-anchor="end">0</text><text x="568.00" y="375.00" text-anchor="end">200</text><text x="568.00" y="346.90" text-anchor="end">400</text><text x="770.50" y="486.00" text-anchor="middle">Time (s)</text><text transform="translate(519.70 398.75) rotate(-90)" text-anchor="middle">Angular</text><text transform="translate(535.90 396.60) rotate(-90)" text-anchor="middle">Rate (deg/s)</text><rect x="859.30" y="438.50" width="134.8" height="39.5" fill="#fff" stroke="#6e6e6e" stroke-width="1.1"/><path d="M865.80 449.50H900.80" stroke="#0000ff" stroke-opacity="0.6" stroke-width="1"/><path d="M865.80 467.30H900.80" stroke="#ff0000" stroke-opacity="0.6" stroke-width="1"/><text x="905.10" y="454.10">Gz</text><text x="905.10" y="472.10">Actual Marker</text></svg></body></html>
